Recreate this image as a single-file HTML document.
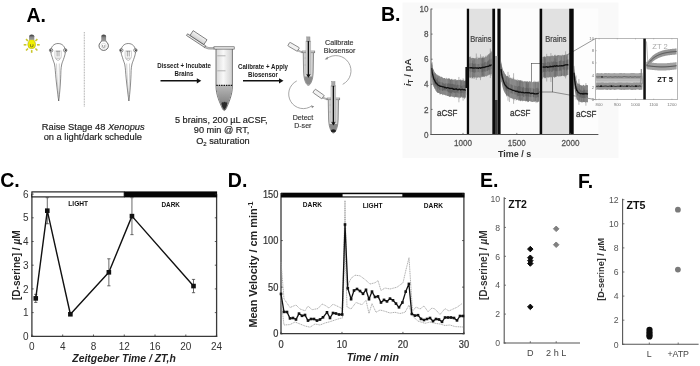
<!DOCTYPE html>
<html><head><meta charset="utf-8"><style>
html,body{margin:0;padding:0;background:#fff;width:700px;height:366px;overflow:hidden}
svg{display:block;font-family:"Liberation Sans", sans-serif;filter:blur(0.35px)}
</style></head><body>
<svg width="700" height="366" viewBox="0 0 700 366">
<rect x="0" y="0" width="700" height="366" fill="#fff"/>
<text x="26.40" y="22.30" font-size="19.5" font-weight="bold" font-style="normal" fill="#000" text-anchor="start" >A.</text>
<text x="381.00" y="20.90" font-size="19.5" font-weight="bold" font-style="normal" fill="#000" text-anchor="start" >B.</text>
<text x="0.20" y="187.30" font-size="19.5" font-weight="bold" font-style="normal" fill="#000" text-anchor="start" >C.</text>
<text x="227.80" y="187.10" font-size="19.5" font-weight="bold" font-style="normal" fill="#000" text-anchor="start" >D.</text>
<text x="480.00" y="187.10" font-size="19.5" font-weight="bold" font-style="normal" fill="#000" text-anchor="start" >E.</text>
<text x="578.00" y="187.50" font-size="19.5" font-weight="bold" font-style="normal" fill="#000" text-anchor="start" >F.</text>
<defs><linearGradient id="bg31" x1="0" y1="0" x2="0" y2="1"><stop offset="0" stop-color="#333"/><stop offset="0.5" stop-color="#888"/><stop offset="1" stop-color="#999"/></linearGradient></defs>
<line x1="37.00" y1="44.80" x2="39.70" y2="44.80" stroke="#c9c62a" stroke-width="1.6"/>
<line x1="35.45" y1="48.55" x2="37.36" y2="50.46" stroke="#c9c62a" stroke-width="1.6"/>
<line x1="31.70" y1="50.10" x2="31.70" y2="52.80" stroke="#c9c62a" stroke-width="1.6"/>
<line x1="27.95" y1="48.55" x2="26.04" y2="50.46" stroke="#c9c62a" stroke-width="1.6"/>
<line x1="26.40" y1="44.80" x2="23.70" y2="44.80" stroke="#c9c62a" stroke-width="1.6"/>
<line x1="35.45" y1="41.05" x2="37.36" y2="39.14" stroke="#c9c62a" stroke-width="1.6"/>
<line x1="27.95" y1="41.05" x2="26.04" y2="39.14" stroke="#c9c62a" stroke-width="1.6"/>
<path d="M29.5,39.599999999999994 C29.5,40.8 27.8,41.8 27.8,44.8 A3.9,3.9 0 0 0 35.6,44.8 C35.6,41.8 33.9,40.8 33.9,39.599999999999994 Z" fill="#f2f000" stroke="#9a9a20" stroke-width="0.5"/>
<path d="M30.4,46.0 l0,-1.8 M33.0,46.0 l0,-1.8 M30.099999999999998,46.199999999999996 q1.6,1.4 3.2,0" stroke="#6a6a20" stroke-width="0.8" fill="none"/>
<path d="M29.099999999999998,39.8 L29.099999999999998,36.199999999999996 Q29.099999999999998,34.599999999999994 31.7,34.599999999999994 Q34.3,34.599999999999994 34.3,36.199999999999996 L34.3,39.8 Z" fill="url(#bg31)"/>
<path d="M58.1,43.5 C62.6,43.5 65.1,47.0 65.3,50.5 C65.5,53.5 64.7,55.5 64.1,57.5 C63.1,60.5 62.2,62.5 61.800000000000004,64.0 C61.300000000000004,66.5 61.0,68.5 60.9,70.5 C60.7,81.5 59.7,93.5 58.7,101.0 C57.7,93.5 56.1,81.5 55.300000000000004,70.5 C55.2,68.5 54.9,66.5 54.5,64.0 C54.0,62.5 53.1,60.5 52.300000000000004,57.5 C51.6,55.5 50.7,53.5 50.9,50.5 C51.1,47.0 53.6,43.5 58.1,43.5 Z" fill="#fff" stroke="#3c3c3c" stroke-width="0.6"/>
<circle cx="51.10" cy="50.30" r="1.7" fill="#fff" stroke="#3c3c3c" stroke-width="0.6"/>
<circle cx="50.60" cy="50.30" r="1.0" fill="#444"/>
<circle cx="65.20" cy="50.30" r="1.7" fill="#fff" stroke="#3c3c3c" stroke-width="0.6"/>
<circle cx="65.70" cy="50.30" r="1.0" fill="#444"/>
<path d="M57.1,51.0 L57.1,56.5 M59.0,51.0 L59.0,56.5 M55.9,51.1 L60.300000000000004,51.1" stroke="#555" stroke-width="0.55" fill="none"/>
<path d="M55.1,50.5 C54.7,53.5 54.9,56.5 55.300000000000004,58.1 M61.1,50.5 C61.5,53.5 61.300000000000004,56.5 60.9,58.1" stroke="#999" stroke-width="0.45" fill="none"/>
<path d="M55.300000000000004,58.2 L60.5,58.2 M55.7,58.7 Q58.1,62.0 60.300000000000004,58.7" stroke="#777" stroke-width="0.5" fill="none"/>
<path d="M56.5,63.5 C56.800000000000004,75.5 57.7,88.5 58.4,98.5 M59.300000000000004,63.5 C59.4,75.5 59.1,88.5 58.7,98.5" stroke="#999" stroke-width="0.45" fill="none"/>
<line x1="84.30" y1="32.00" x2="84.30" y2="106.80" stroke="#777" stroke-width="0.65" stroke-dasharray="0.9,0.7"/>
<defs><linearGradient id="bg103" x1="0" y1="0" x2="0" y2="1"><stop offset="0" stop-color="#333"/><stop offset="0.5" stop-color="#888"/><stop offset="1" stop-color="#999"/></linearGradient></defs>
<path d="M101.4,40.8 C101.4,42.4 99.0,42.9 99.0,45.699999999999996 A4.7,4.7 0 0 0 108.4,45.699999999999996 C108.4,42.9 106.0,42.4 106.0,40.8 Z" fill="#fff" stroke="#3a3a3a" stroke-width="0.75"/>
<circle cx="103.7" cy="45.9" r="2.6" fill="none" stroke="#ccc" stroke-width="0.6"/>
<path d="M102.60000000000001,46.6 l0,-1.6 M104.8,46.6 l0,-1.6 M102.3,46.8 q1.4,1.2 2.8,0" stroke="#777" stroke-width="0.7" fill="none"/>
<path d="M101.3,41.0 L101.3,36.0 Q101.3,34.4 103.7,34.4 Q106.10000000000001,34.4 106.10000000000001,36.0 L106.10000000000001,41.0 Z" fill="url(#bg103)"/>
<path d="M128.3,43.5 C132.8,43.5 135.3,47.0 135.5,50.5 C135.70000000000002,53.5 134.9,55.5 134.3,57.5 C133.3,60.5 132.4,62.5 132.0,64.0 C131.5,66.5 131.20000000000002,68.5 131.10000000000002,70.5 C130.9,81.5 129.9,93.5 128.9,101.0 C127.9,93.5 126.30000000000001,81.5 125.50000000000001,70.5 C125.4,68.5 125.10000000000001,66.5 124.70000000000002,64.0 C124.20000000000002,62.5 123.30000000000001,60.5 122.50000000000001,57.5 C121.80000000000001,55.5 120.9,53.5 121.10000000000001,50.5 C121.30000000000001,47.0 123.80000000000001,43.5 128.3,43.5 Z" fill="#fff" stroke="#3c3c3c" stroke-width="0.6"/>
<circle cx="121.30" cy="50.30" r="1.7" fill="#fff" stroke="#3c3c3c" stroke-width="0.6"/>
<circle cx="120.80" cy="50.30" r="1.0" fill="#444"/>
<circle cx="135.40" cy="50.30" r="1.7" fill="#fff" stroke="#3c3c3c" stroke-width="0.6"/>
<circle cx="135.90" cy="50.30" r="1.0" fill="#444"/>
<path d="M127.30000000000001,51.0 L127.30000000000001,56.5 M129.20000000000002,51.0 L129.20000000000002,56.5 M126.10000000000001,51.1 L130.5,51.1" stroke="#555" stroke-width="0.55" fill="none"/>
<path d="M125.30000000000001,50.5 C124.9,53.5 125.10000000000001,56.5 125.50000000000001,58.1 M131.3,50.5 C131.70000000000002,53.5 131.5,56.5 131.10000000000002,58.1" stroke="#999" stroke-width="0.45" fill="none"/>
<path d="M125.50000000000001,58.2 L130.70000000000002,58.2 M125.9,58.7 Q128.3,62.0 130.5,58.7" stroke="#777" stroke-width="0.5" fill="none"/>
<path d="M126.70000000000002,63.5 C127.00000000000001,75.5 127.9,88.5 128.60000000000002,98.5 M129.5,63.5 C129.60000000000002,75.5 129.3,88.5 128.9,98.5" stroke="#999" stroke-width="0.45" fill="none"/>
<text x="93.20" y="129.60" font-size="9.3" font-weight="normal" font-style="normal" fill="#222" text-anchor="middle" stroke="#222" stroke-width="0.18">Raise Stage 48 <tspan font-style="italic">Xenopus</tspan></text>
<text x="92.80" y="139.60" font-size="9.3" font-weight="normal" font-style="normal" fill="#222" text-anchor="middle" stroke="#222" stroke-width="0.18">on a light/dark schedule</text>
<text transform="translate(184.00,68.30) scale(1,1.2)" x="0" y="0" font-size="6.1" font-weight="bold" font-style="normal" fill="#1a1a1a" text-anchor="middle" >Dissect + Incubate</text>
<text transform="translate(184.00,75.60) scale(1,1.2)" x="0" y="0" font-size="6.1" font-weight="bold" font-style="normal" fill="#1a1a1a" text-anchor="middle" >Brains</text>
<line x1="160.50" y1="80.80" x2="197.80" y2="80.80" stroke="#111" stroke-width="1.6" />
<polygon points="201.30,80.80 196.80,78.20 196.80,83.40" fill="#111" />
<text transform="translate(263.00,69.40) scale(1,1.2)" x="0" y="0" font-size="6.13" font-weight="bold" font-style="normal" fill="#1a1a1a" text-anchor="middle" >Calibrate + Apply</text>
<text transform="translate(263.00,76.80) scale(1,1.2)" x="0" y="0" font-size="6.13" font-weight="bold" font-style="normal" fill="#1a1a1a" text-anchor="middle" >Biosensor</text>
<line x1="243.00" y1="80.80" x2="280.00" y2="80.80" stroke="#111" stroke-width="1.6" />
<polygon points="283.50,80.80 279.00,78.20 279.00,83.40" fill="#111" />
<defs><linearGradient id="tg" x1="0" x2="1" y1="0" y2="0"><stop offset="0" stop-color="#d8d8d8"/><stop offset="0.45" stop-color="#f8f8f8"/><stop offset="1" stop-color="#d0d0d0"/></linearGradient><linearGradient id="cg2" x1="0" x2="0" y1="0" y2="1"><stop offset="0" stop-color="#b8b8b8"/><stop offset="0.6" stop-color="#8e8e8e"/><stop offset="1" stop-color="#555"/></linearGradient><linearGradient id="lidg" x1="0" x2="0" y1="0" y2="1"><stop offset="0" stop-color="#f4f4f4"/><stop offset="1" stop-color="#cfcfcf"/></linearGradient><linearGradient id="stg" x1="0" x2="1" y1="0" y2="0"><stop offset="0" stop-color="#c8c8c8"/><stop offset="0.5" stop-color="#f2f2f2"/><stop offset="1" stop-color="#c0c0c0"/></linearGradient><linearGradient id="cg" x1="0" x2="1" y1="0" y2="0"><stop offset="0" stop-color="#777"/><stop offset="0.5" stop-color="#aaa"/><stop offset="1" stop-color="#666"/></linearGradient></defs>
<path d="M216,48.5 L216,86 C216,95 220,103 222.3,108.4 Q224.3,112.6 226.3,108.4 C228.6,103 232.4,95 232.4,86 L232.4,48.5 Z" fill="url(#tg)" stroke="#444" stroke-width="0.7"/>
<path d="M216.5,85.5 L216.5,86 C216.5,95 220.4,103 222.6,108.2 Q224.3,112 226,108.2 C228.2,103 231.9,95 231.9,86 L231.9,85.5 Z" fill="url(#cg2)"/>
<path d="M221.5,103.5 Q222,101.8 223.5,102.6 Q224.5,101 225.6,102.4 Q227.2,101.8 227.2,103.8 Q227,107 224.4,109.5 Q221.8,107 221.5,103.5 Z" fill="#2a2a2a"/>
<line x1="216.30" y1="85.30" x2="232.10" y2="85.30" stroke="#111" stroke-width="1.3" stroke-dasharray="1.5,0.9"/>
<rect x="213.90" y="46.80" width="20.30" height="2.30" fill="#ececec" stroke="#444" stroke-width="0.6" />
<line x1="217.30" y1="55.80" x2="225.50" y2="55.80" stroke="#999" stroke-width="0.7" />
<line x1="217.30" y1="70.80" x2="225.50" y2="70.80" stroke="#999" stroke-width="0.7" />
<path d="M205,46.2 Q208.5,48.3 214,47.6 L214,49.0 Q208,49.8 204.4,47.6 Z" fill="#ccc" stroke="#555" stroke-width="0.45"/>
<g transform="translate(198.7,37.3) rotate(33.4)"><rect x="-11.2" y="3.2" width="21.6" height="2.0" fill="#e8e8e8" stroke="#444" stroke-width="0.6"/><rect x="-8.3" y="-2.5" width="16.6" height="5.7" fill="url(#lidg)" stroke="#444" stroke-width="0.6"/></g>
<text x="221.30" y="122.90" font-size="9.15" font-weight="normal" font-style="normal" fill="#222" text-anchor="middle" stroke="#222" stroke-width="0.18">5 brains, 200 µL aCSF,</text>
<text x="221.60" y="133.20" font-size="9.2" font-weight="normal" font-style="normal" fill="#222" text-anchor="middle" stroke="#222" stroke-width="0.18">90 min @ RT,</text>
<g transform="translate(222.9,143.6)"><text x="0" y="0" font-size="9.2" fill="#222" stroke="#222" stroke-width="0.18" text-anchor="middle">O<tspan font-size="6" dy="2">2</tspan><tspan dy="-2"> saturation</tspan></text></g>
<path d="M303.2,52.0 L303.59999999999997,72.0 C303.8,80.4 306.59999999999997,85.4 308.4,85.4 C310.2,85.4 312.99999999999994,80.4 313.2,72.0 L313.59999999999997,52.0 Z" fill="url(#stg)" stroke="#555" stroke-width="0.6"/>
<path d="M304.2,76.4 C304.8,81.4 306.79999999999995,84.80000000000001 308.4,84.80000000000001 C310.0,84.80000000000001 311.99999999999994,81.4 312.59999999999997,76.4 Z" fill="#8a8a8a"/>
<rect x="302.00" y="51.00" width="12.80" height="1.80" fill="#e4e4e4" stroke="#555" stroke-width="0.5" />
<line x1="304.40" y1="58.00" x2="305.80" y2="58.00" stroke="#999" stroke-width="0.4" />
<line x1="304.40" y1="65.00" x2="305.80" y2="65.00" stroke="#999" stroke-width="0.4" />
<rect x="306.00" y="41.10" width="4.80" height="33.30" fill="#e2e2e2" stroke="#8a8a8a" stroke-width="0.45" />
<rect x="306.80" y="36.90" width="3.20" height="4.60" fill="#a8a8a8" stroke="#777" stroke-width="0.4" />
<line x1="308.40" y1="41.10" x2="308.40" y2="75.90" stroke="#111" stroke-width="1.5" />
<path d="M306.2,74.60000000000001 L310.59999999999997,74.60000000000001 L308.4,77.80000000000001 Z" fill="#111"/>
<g transform="translate(293.6,46.8) rotate(30)"><rect x="-5.6" y="-2.1" width="11.2" height="4.2" rx="0.8" fill="#f2f2f2" stroke="#444" stroke-width="0.55"/></g>
<path d="M297.8,49.8 L302.0,51.8 L302.0,52.8 L297.20000000000005,50.8 Z" fill="#ddd" stroke="#555" stroke-width="0.4"/>
<path d="M328.2,99.0 L328.59999999999997,119.0 C328.8,128.0 331.59999999999997,133.0 333.4,133.0 C335.2,133.0 337.99999999999994,128.0 338.2,119.0 L338.59999999999997,99.0 Z" fill="url(#stg)" stroke="#555" stroke-width="0.6"/>
<path d="M329.2,124.0 C329.8,129.0 331.79999999999995,132.4 333.4,132.4 C335.0,132.4 336.99999999999994,129.0 337.59999999999997,124.0 Z" fill="#8a8a8a"/>
<ellipse cx="333.4" cy="130.8" rx="2.6" ry="1.6" fill="#222"/>
<rect x="327.00" y="98.00" width="12.80" height="1.80" fill="#e4e4e4" stroke="#555" stroke-width="0.5" />
<line x1="329.40" y1="105.00" x2="330.80" y2="105.00" stroke="#999" stroke-width="0.4" />
<line x1="329.40" y1="112.00" x2="330.80" y2="112.00" stroke="#999" stroke-width="0.4" />
<rect x="331.00" y="85.80" width="4.80" height="36.20" fill="#e2e2e2" stroke="#8a8a8a" stroke-width="0.45" />
<rect x="331.80" y="81.60" width="3.20" height="4.60" fill="#a8a8a8" stroke="#777" stroke-width="0.4" />
<line x1="333.40" y1="85.80" x2="333.40" y2="123.50" stroke="#111" stroke-width="1.5" />
<path d="M331.2,122.2 L335.59999999999997,122.2 L333.4,125.4 Z" fill="#111"/>
<g transform="translate(318.6,94.0) rotate(35)"><rect x="-5.6" y="-2.1" width="11.2" height="4.2" rx="0.8" fill="#f2f2f2" stroke="#444" stroke-width="0.55"/></g>
<path d="M322.8,97.0 L327.0,98.8 L327.0,99.8 L322.20000000000005,98.0 Z" fill="#ddd" stroke="#555" stroke-width="0.4"/>
<text x="339.30" y="44.70" font-size="7.15" font-weight="normal" font-style="normal" fill="#333" text-anchor="middle" stroke="#333" stroke-width="0.15">Calibrate</text>
<text x="339.60" y="53.00" font-size="7.1" font-weight="normal" font-style="normal" fill="#333" text-anchor="middle" stroke="#333" stroke-width="0.15">Biosensor</text>
<text x="302.90" y="119.90" font-size="7.1" font-weight="normal" font-style="normal" fill="#333" text-anchor="middle" stroke="#333" stroke-width="0.15">Detect</text>
<text x="302.80" y="128.40" font-size="7.03" font-weight="normal" font-style="normal" fill="#333" text-anchor="middle" stroke="#333" stroke-width="0.15">D-ser</text>
<path d="M326.44,58.82 A15.2,15.2 0 1 1 342.70,84.34" fill="none" stroke="#8a8a8a" stroke-width="0.75"/>
<path d="M324.6,59.6 L327.6,56.6 L327.9,59.2 Z" fill="#888"/>
<path d="M296.76,80.95 A14.6,14.6 0 1 0 311.98,105.74" fill="none" stroke="#8a8a8a" stroke-width="0.75"/>
<path d="M314.2,106.3 L311.2,105.6 L312.0,108.3 Z" fill="#888"/>
<rect x="402.50" y="2.50" width="216.00" height="155.60" fill="#f9f9f9" stroke="none" stroke-width="1" />
<rect x="431.00" y="8.70" width="167.40" height="125.80" fill="#fdfdfd" stroke="none" stroke-width="1" />
<rect x="469.00" y="8.70" width="23.30" height="125.80" fill="#e1e1e1" stroke="none" stroke-width="1" />
<rect x="542.20" y="8.70" width="27.00" height="125.80" fill="#e1e1e1" stroke="none" stroke-width="1" />
<rect x="531.30" y="63.30" width="21.40" height="28.70" fill="none" stroke="#444" stroke-width="0.6" />
<line x1="552.70" y1="63.30" x2="595.70" y2="38.40" stroke="#555" stroke-width="0.6" />
<line x1="552.70" y1="92.00" x2="595.70" y2="99.70" stroke="#555" stroke-width="0.6" />
<polygon points="431.60,61.86 432.30,65.20 433.00,68.41 433.70,69.67 434.40,71.71 435.10,72.64 435.80,73.17 436.50,74.42 437.20,74.45 437.90,75.41 438.60,75.39 439.30,75.78 440.00,76.50 440.70,77.27 441.40,76.69 442.10,77.04 442.80,77.75 443.50,78.33 444.20,78.08 444.90,78.04 445.60,78.90 446.30,77.93 447.00,79.05 447.70,78.51 448.40,78.46 449.10,78.55 449.80,78.89 450.50,79.61 451.20,78.94 451.90,79.52 452.60,79.68 453.30,79.44 454.00,79.73 454.70,79.23 455.40,79.29 456.10,79.54 456.80,80.17 457.50,79.92 458.20,79.84 458.90,80.22 459.60,80.11 460.30,79.98 461.00,80.61 461.70,80.54 462.40,80.04 463.10,80.47 463.80,80.45 464.50,80.90 465.20,80.75 465.90,80.25 465.90,98.39 465.20,97.32 464.50,97.65 463.80,98.02 463.10,97.26 462.40,97.63 461.70,97.05 461.00,97.76 460.30,97.83 459.60,97.56 458.90,97.87 458.20,97.14 457.50,97.55 456.80,97.36 456.10,97.28 455.40,97.07 454.70,97.46 454.00,97.51 453.30,96.87 452.60,97.01 451.90,96.20 451.20,96.87 450.50,96.70 449.80,97.01 449.10,96.69 448.40,95.93 447.70,95.92 447.00,96.12 446.30,95.20 445.60,95.58 444.90,95.06 444.20,94.82 443.50,94.56 442.80,95.21 442.10,94.22 441.40,94.11 440.70,94.02 440.00,94.29 439.30,93.01 438.60,93.06 437.90,92.72 437.20,92.58 436.50,91.84 435.80,91.07 435.10,89.32 434.40,88.13 433.70,86.28 433.00,84.52 432.30,81.38 431.60,75.99" fill="#878787" />
<polygon points="431.60,65.03 432.30,69.15 433.00,72.11 433.70,74.70 434.40,76.52 435.10,77.25 435.80,77.82 436.50,79.26 437.20,79.81 437.90,80.64 438.60,81.70 439.30,81.66 440.00,81.71 440.70,82.17 441.40,82.52 442.10,81.77 442.80,83.34 443.50,83.36 444.20,83.70 444.90,83.75 445.60,83.27 446.30,83.43 447.00,83.10 447.70,84.09 448.40,83.30 449.10,83.43 449.80,83.77 450.50,83.80 451.20,84.19 451.90,83.82 452.60,83.83 453.30,84.15 454.00,84.15 454.70,84.65 455.40,84.18 456.10,85.60 456.80,85.25 457.50,84.56 458.20,84.79 458.90,84.99 459.60,85.07 460.30,84.73 461.00,85.93 461.70,86.21 462.40,85.40 463.10,85.47 463.80,84.87 464.50,84.93 465.20,85.34 465.90,85.25 465.90,93.94 465.20,92.84 464.50,92.59 463.80,94.04 463.10,93.33 462.40,92.68 461.70,93.27 461.00,92.40 460.30,93.16 459.60,93.84 458.90,93.60 458.20,93.28 457.50,92.53 456.80,92.64 456.10,92.26 455.40,93.16 454.70,92.70 454.00,93.02 453.30,92.22 452.60,91.97 451.90,92.82 451.20,93.00 450.50,92.69 449.80,92.51 449.10,92.42 448.40,92.17 447.70,91.22 447.00,91.55 446.30,91.15 445.60,90.47 444.90,90.30 444.20,90.53 443.50,90.30 442.80,90.79 442.10,90.99 441.40,89.93 440.70,90.45 440.00,90.23 439.30,89.84 438.60,88.50 437.90,87.82 437.20,87.28 436.50,86.57 435.80,85.76 435.10,85.39 434.40,84.47 433.70,82.59 433.00,79.63 432.30,76.67 431.60,72.48" fill="#686868" />
<line x1="431.60" y1="63.54" x2="431.60" y2="77.50" stroke="#6a6a6a" stroke-width="0.5" />
<line x1="432.30" y1="64.92" x2="432.30" y2="81.38" stroke="#8e8e8e" stroke-width="0.5" />
<line x1="433.00" y1="70.99" x2="433.00" y2="84.31" stroke="#9a9a9a" stroke-width="0.5" />
<line x1="433.70" y1="72.94" x2="433.70" y2="86.71" stroke="#6a6a6a" stroke-width="0.5" />
<line x1="435.10" y1="73.96" x2="435.10" y2="88.68" stroke="#6a6a6a" stroke-width="0.5" />
<line x1="437.20" y1="77.72" x2="437.20" y2="89.82" stroke="#6a6a6a" stroke-width="0.5" />
<line x1="437.90" y1="77.59" x2="437.90" y2="92.93" stroke="#5e5e5e" stroke-width="0.5" />
<line x1="440.00" y1="79.02" x2="440.00" y2="94.57" stroke="#6a6a6a" stroke-width="0.5" />
<line x1="440.70" y1="76.34" x2="440.70" y2="93.40" stroke="#8e8e8e" stroke-width="0.5" />
<line x1="441.40" y1="77.53" x2="441.40" y2="92.01" stroke="#8e8e8e" stroke-width="0.5" />
<line x1="446.30" y1="77.66" x2="446.30" y2="95.07" stroke="#9a9a9a" stroke-width="0.5" />
<line x1="449.10" y1="78.14" x2="449.10" y2="96.09" stroke="#5e5e5e" stroke-width="0.5" />
<line x1="450.50" y1="80.06" x2="450.50" y2="96.03" stroke="#5e5e5e" stroke-width="0.5" />
<line x1="451.90" y1="78.78" x2="451.90" y2="93.91" stroke="#5e5e5e" stroke-width="0.5" />
<line x1="455.40" y1="81.08" x2="455.40" y2="96.40" stroke="#6a6a6a" stroke-width="0.5" />
<line x1="456.80" y1="80.85" x2="456.80" y2="96.40" stroke="#6a6a6a" stroke-width="0.5" />
<line x1="459.60" y1="81.19" x2="459.60" y2="98.71" stroke="#9a9a9a" stroke-width="0.5" />
<line x1="460.30" y1="79.26" x2="460.30" y2="96.51" stroke="#5e5e5e" stroke-width="0.5" />
<line x1="461.70" y1="79.76" x2="461.70" y2="95.97" stroke="#5e5e5e" stroke-width="0.5" />
<line x1="463.10" y1="82.10" x2="463.10" y2="97.65" stroke="#6a6a6a" stroke-width="0.5" />
<line x1="463.80" y1="79.53" x2="463.80" y2="96.82" stroke="#5e5e5e" stroke-width="0.5" />
<line x1="464.50" y1="81.14" x2="464.50" y2="99.20" stroke="#6a6a6a" stroke-width="0.5" />
<line x1="465.20" y1="80.92" x2="465.20" y2="97.10" stroke="#8e8e8e" stroke-width="0.5" />
<line x1="465.90" y1="80.61" x2="465.90" y2="95.22" stroke="#8e8e8e" stroke-width="0.5" />
<line x1="432.30" y1="62.26" x2="432.30" y2="84.20" stroke="#8a8a8a" stroke-width="0.6" />
<line x1="463.10" y1="78.31" x2="463.10" y2="100.67" stroke="#8a8a8a" stroke-width="0.6" />
<line x1="458.90" y1="76.94" x2="458.90" y2="102.30" stroke="#8a8a8a" stroke-width="0.6" />
<polyline points="431.60,68.06 432.30,73.20 433.00,75.82 433.70,78.79 434.40,79.86 435.10,81.38 435.80,83.00 436.50,83.17 437.20,84.35 437.90,84.95 438.60,85.43 439.30,85.67 440.00,86.25 440.70,86.06 441.40,86.45 442.10,86.67 442.80,86.88 443.50,86.93 444.20,87.08 444.90,87.73 445.60,87.34 446.30,88.13 447.00,87.71 447.70,87.62 448.40,87.82 449.10,88.09 449.80,88.52 450.50,88.28 451.20,88.42 451.90,88.38 452.60,88.37 453.30,89.34 454.00,88.90 454.70,89.42 455.40,89.23 456.10,88.78 456.80,89.44 457.50,89.71 458.20,89.79 458.90,89.21 459.60,89.18 460.30,89.91 461.00,89.68 461.70,89.63 462.40,89.38 463.10,89.63 463.80,89.87 464.50,89.54 465.20,90.05 465.90,90.25" fill="none" stroke="#111" stroke-width="1.3" stroke-linejoin="round" />
<polygon points="469.30,56.98 470.00,57.05 470.70,57.72 471.40,58.37 472.10,57.88 472.80,57.63 473.50,57.93 474.20,58.24 474.90,58.27 475.60,58.31 476.30,58.19 477.00,58.60 477.70,58.69 478.40,57.87 479.10,57.71 479.80,57.67 480.50,57.56 481.20,58.29 481.90,57.99 482.60,57.16 483.30,58.04 484.00,57.88 484.70,57.53 485.40,56.36 486.10,56.84 486.80,56.51 487.50,55.33 488.20,54.24 488.90,54.31 489.60,53.30 490.30,52.79 491.00,52.67 491.70,51.55 491.70,74.58 491.00,74.06 490.30,74.48 489.60,74.83 488.90,74.76 488.20,75.43 487.50,75.61 486.80,76.62 486.10,76.03 485.40,75.89 484.70,77.09 484.00,76.46 483.30,76.57 482.60,76.90 481.90,76.72 481.20,77.06 480.50,77.61 479.80,77.19 479.10,77.89 478.40,77.11 477.70,78.01 477.00,77.21 476.30,77.74 475.60,77.49 474.90,77.35 474.20,77.71 473.50,77.00 472.80,77.99 472.10,77.79 471.40,76.88 470.70,77.68 470.00,77.47 469.30,77.15" fill="#878787" />
<polygon points="469.30,63.46 470.00,63.48 470.70,63.20 471.40,62.95 472.10,63.56 472.80,62.87 473.50,64.02 474.20,63.89 474.90,63.61 475.60,63.51 476.30,63.96 477.00,63.65 477.70,64.28 478.40,64.00 479.10,63.66 479.80,64.00 480.50,62.65 481.20,63.63 481.90,63.70 482.60,63.43 483.30,63.68 484.00,63.03 484.70,61.96 485.40,61.71 486.10,62.44 486.80,62.56 487.50,61.22 488.20,60.92 488.90,59.85 489.60,59.37 490.30,59.75 491.00,58.85 491.70,58.43 491.70,69.06 491.00,68.69 490.30,70.33 489.60,70.52 488.90,69.47 488.20,70.41 487.50,70.99 486.80,70.77 486.10,71.52 485.40,71.77 484.70,70.98 484.00,71.98 483.30,71.30 482.60,72.11 481.90,71.93 481.20,72.66 480.50,71.52 479.80,72.93 479.10,71.99 478.40,71.65 477.70,72.61 477.00,71.93 476.30,72.57 475.60,72.13 474.90,72.61 474.20,72.63 473.50,72.47 472.80,71.63 472.10,72.11 471.40,72.04 470.70,72.74 470.00,71.26 469.30,71.36" fill="#686868" />
<line x1="469.30" y1="59.23" x2="469.30" y2="75.32" stroke="#9a9a9a" stroke-width="0.5" />
<line x1="470.00" y1="56.66" x2="470.00" y2="78.15" stroke="#6a6a6a" stroke-width="0.5" />
<line x1="470.70" y1="56.60" x2="470.70" y2="76.34" stroke="#8e8e8e" stroke-width="0.5" />
<line x1="471.40" y1="59.98" x2="471.40" y2="78.65" stroke="#9a9a9a" stroke-width="0.5" />
<line x1="472.80" y1="60.56" x2="472.80" y2="78.62" stroke="#5e5e5e" stroke-width="0.5" />
<line x1="474.20" y1="58.91" x2="474.20" y2="78.84" stroke="#6a6a6a" stroke-width="0.5" />
<line x1="476.30" y1="57.14" x2="476.30" y2="76.28" stroke="#9a9a9a" stroke-width="0.5" />
<line x1="477.70" y1="56.74" x2="477.70" y2="74.64" stroke="#9a9a9a" stroke-width="0.5" />
<line x1="479.10" y1="59.83" x2="479.10" y2="76.43" stroke="#9a9a9a" stroke-width="0.5" />
<line x1="479.80" y1="60.28" x2="479.80" y2="74.50" stroke="#8e8e8e" stroke-width="0.5" />
<line x1="481.20" y1="60.50" x2="481.20" y2="77.54" stroke="#8e8e8e" stroke-width="0.5" />
<line x1="481.90" y1="56.51" x2="481.90" y2="75.97" stroke="#5e5e5e" stroke-width="0.5" />
<line x1="482.60" y1="58.02" x2="482.60" y2="75.33" stroke="#5e5e5e" stroke-width="0.5" />
<line x1="483.30" y1="56.19" x2="483.30" y2="76.93" stroke="#6a6a6a" stroke-width="0.5" />
<line x1="484.00" y1="56.99" x2="484.00" y2="76.10" stroke="#6a6a6a" stroke-width="0.5" />
<line x1="486.10" y1="55.32" x2="486.10" y2="76.67" stroke="#9a9a9a" stroke-width="0.5" />
<line x1="489.60" y1="55.24" x2="489.60" y2="74.14" stroke="#6a6a6a" stroke-width="0.5" />
<line x1="491.00" y1="50.83" x2="491.00" y2="75.78" stroke="#6a6a6a" stroke-width="0.5" />
<line x1="491.70" y1="51.80" x2="491.70" y2="72.62" stroke="#8e8e8e" stroke-width="0.5" />
<line x1="480.50" y1="54.30" x2="480.50" y2="80.14" stroke="#8a8a8a" stroke-width="0.6" />
<line x1="490.30" y1="48.55" x2="490.30" y2="78.04" stroke="#8a8a8a" stroke-width="0.6" />
<line x1="476.30" y1="53.56" x2="476.30" y2="79.86" stroke="#8a8a8a" stroke-width="0.6" />
<polyline points="469.30,67.54 470.00,67.91 470.70,67.76 471.40,67.75 472.10,67.72 472.80,68.17 473.50,67.93 474.20,68.09 474.90,67.86 475.60,67.83 476.30,68.19 477.00,67.98 477.70,68.01 478.40,68.38 479.10,67.79 479.80,67.56 480.50,68.25 481.20,67.72 481.90,67.94 482.60,67.33 483.30,67.25 484.00,67.53 484.70,67.13 485.40,67.01 486.10,66.62 486.80,66.71 487.50,66.34 488.20,66.35 488.90,66.17 489.60,65.24 490.30,65.72 491.00,65.00 491.70,64.98" fill="none" stroke="#111" stroke-width="1.3" stroke-linejoin="round" />
<polygon points="501.00,61.07 501.70,64.66 502.40,68.09 503.10,70.45 503.80,71.12 504.50,72.81 505.20,74.27 505.90,75.18 506.60,76.08 507.30,76.10 508.00,76.11 508.70,77.57 509.40,77.95 510.10,77.82 510.80,78.05 511.50,78.31 512.20,78.96 512.90,78.53 513.60,78.66 514.30,79.85 515.00,79.00 515.70,80.03 516.40,80.05 517.10,80.38 517.80,80.58 518.50,79.75 519.20,80.71 519.90,79.90 520.60,80.16 521.30,80.80 522.00,80.26 522.70,81.17 523.40,81.56 524.10,81.24 524.80,81.20 525.50,81.17 526.20,81.63 526.90,80.90 527.60,81.21 528.30,82.04 529.00,81.19 529.70,81.33 530.40,82.01 531.10,81.11 531.80,81.80 532.50,82.39 533.20,81.57 533.90,81.66 534.60,82.32 535.30,81.64 536.00,82.01 536.70,82.06 537.40,81.47 538.10,81.95 538.80,82.27 538.80,101.55 538.10,101.69 537.40,102.50 536.70,102.18 536.00,101.47 535.30,101.62 534.60,101.82 533.90,101.72 533.20,101.83 532.50,102.03 531.80,102.02 531.10,101.55 530.40,101.54 529.70,101.02 529.00,101.31 528.30,101.92 527.60,100.93 526.90,101.38 526.20,100.96 525.50,101.56 524.80,100.80 524.10,101.05 523.40,100.72 522.70,101.38 522.00,100.35 521.30,100.87 520.60,100.74 519.90,100.97 519.20,100.36 518.50,100.74 517.80,99.58 517.10,100.08 516.40,100.31 515.70,99.11 515.00,98.89 514.30,99.39 513.60,98.96 512.90,99.10 512.20,98.23 511.50,98.28 510.80,98.31 510.10,97.51 509.40,96.90 508.70,96.45 508.00,96.08 507.30,95.55 506.60,95.44 505.90,94.48 505.20,93.42 504.50,91.99 503.80,90.91 503.10,89.01 502.40,86.53 501.70,82.39 501.00,77.35" fill="#878787" />
<polygon points="501.00,64.97 501.70,69.20 502.40,72.94 503.10,76.12 503.80,77.48 504.50,79.26 505.20,79.82 505.90,81.37 506.60,81.39 507.30,82.82 508.00,82.21 508.70,83.65 509.40,83.24 510.10,84.14 510.80,84.31 511.50,84.40 512.20,85.32 512.90,85.14 513.60,85.61 514.30,85.20 515.00,85.99 515.70,85.81 516.40,85.93 517.10,86.23 517.80,86.92 518.50,85.87 519.20,86.21 519.90,86.12 520.60,87.10 521.30,86.82 522.00,86.88 522.70,87.96 523.40,86.60 524.10,87.81 524.80,87.80 525.50,88.25 526.20,87.32 526.90,88.06 527.60,87.92 528.30,88.32 529.00,88.60 529.70,87.24 530.40,88.51 531.10,87.41 531.80,88.43 532.50,88.07 533.20,88.61 533.90,88.67 534.60,88.90 535.30,88.77 536.00,87.71 536.70,88.33 537.40,87.57 538.10,89.08 538.80,88.10 538.80,97.72 538.10,96.83 537.40,96.94 536.70,97.91 536.00,97.24 535.30,97.72 534.60,97.39 533.90,97.22 533.20,96.99 532.50,96.58 531.80,96.93 531.10,97.28 530.40,96.96 529.70,97.01 529.00,96.34 528.30,96.71 527.60,96.14 526.90,96.02 526.20,96.84 525.50,96.10 524.80,96.37 524.10,97.20 523.40,97.08 522.70,95.72 522.00,95.56 521.30,95.98 520.60,96.56 519.90,95.40 519.20,95.76 518.50,96.01 517.80,95.85 517.10,95.73 516.40,94.80 515.70,94.61 515.00,94.42 514.30,94.20 513.60,94.01 512.90,94.07 512.20,93.43 511.50,93.24 510.80,93.03 510.10,93.71 509.40,92.19 508.70,91.58 508.00,91.41 507.30,90.84 506.60,90.62 505.90,90.02 505.20,88.15 504.50,87.48 503.80,85.22 503.10,83.14 502.40,81.89 501.70,77.35 501.00,73.06" fill="#686868" />
<line x1="501.00" y1="63.60" x2="501.00" y2="75.87" stroke="#5e5e5e" stroke-width="0.5" />
<line x1="501.70" y1="67.76" x2="501.70" y2="82.08" stroke="#5e5e5e" stroke-width="0.5" />
<line x1="502.40" y1="70.11" x2="502.40" y2="84.97" stroke="#8e8e8e" stroke-width="0.5" />
<line x1="504.50" y1="74.27" x2="504.50" y2="92.41" stroke="#8e8e8e" stroke-width="0.5" />
<line x1="505.20" y1="74.11" x2="505.20" y2="91.10" stroke="#6a6a6a" stroke-width="0.5" />
<line x1="506.60" y1="77.31" x2="506.60" y2="96.37" stroke="#5e5e5e" stroke-width="0.5" />
<line x1="508.00" y1="76.79" x2="508.00" y2="96.27" stroke="#5e5e5e" stroke-width="0.5" />
<line x1="508.70" y1="79.13" x2="508.70" y2="96.42" stroke="#5e5e5e" stroke-width="0.5" />
<line x1="509.40" y1="79.52" x2="509.40" y2="97.36" stroke="#6a6a6a" stroke-width="0.5" />
<line x1="510.80" y1="77.33" x2="510.80" y2="98.18" stroke="#9a9a9a" stroke-width="0.5" />
<line x1="512.90" y1="77.59" x2="512.90" y2="99.20" stroke="#8e8e8e" stroke-width="0.5" />
<line x1="513.60" y1="77.66" x2="513.60" y2="99.52" stroke="#8e8e8e" stroke-width="0.5" />
<line x1="515.00" y1="79.79" x2="515.00" y2="100.70" stroke="#9a9a9a" stroke-width="0.5" />
<line x1="516.40" y1="82.00" x2="516.40" y2="98.63" stroke="#8e8e8e" stroke-width="0.5" />
<line x1="517.10" y1="79.20" x2="517.10" y2="97.03" stroke="#6a6a6a" stroke-width="0.5" />
<line x1="519.20" y1="81.67" x2="519.20" y2="99.04" stroke="#6a6a6a" stroke-width="0.5" />
<line x1="519.90" y1="80.27" x2="519.90" y2="99.84" stroke="#5e5e5e" stroke-width="0.5" />
<line x1="520.60" y1="81.32" x2="520.60" y2="101.23" stroke="#6a6a6a" stroke-width="0.5" />
<line x1="521.30" y1="82.98" x2="521.30" y2="97.91" stroke="#9a9a9a" stroke-width="0.5" />
<line x1="522.00" y1="82.05" x2="522.00" y2="100.68" stroke="#5e5e5e" stroke-width="0.5" />
<line x1="524.80" y1="83.20" x2="524.80" y2="99.17" stroke="#9a9a9a" stroke-width="0.5" />
<line x1="526.20" y1="81.94" x2="526.20" y2="100.86" stroke="#5e5e5e" stroke-width="0.5" />
<line x1="526.90" y1="82.21" x2="526.90" y2="100.11" stroke="#5e5e5e" stroke-width="0.5" />
<line x1="527.60" y1="84.31" x2="527.60" y2="102.12" stroke="#6a6a6a" stroke-width="0.5" />
<line x1="528.30" y1="82.54" x2="528.30" y2="101.91" stroke="#5e5e5e" stroke-width="0.5" />
<line x1="529.70" y1="81.87" x2="529.70" y2="100.67" stroke="#8e8e8e" stroke-width="0.5" />
<line x1="531.10" y1="81.33" x2="531.10" y2="100.46" stroke="#8e8e8e" stroke-width="0.5" />
<line x1="531.80" y1="82.23" x2="531.80" y2="98.86" stroke="#9a9a9a" stroke-width="0.5" />
<line x1="532.50" y1="82.31" x2="532.50" y2="101.58" stroke="#9a9a9a" stroke-width="0.5" />
<line x1="534.60" y1="80.71" x2="534.60" y2="100.53" stroke="#8e8e8e" stroke-width="0.5" />
<line x1="535.30" y1="82.43" x2="535.30" y2="101.24" stroke="#5e5e5e" stroke-width="0.5" />
<line x1="536.00" y1="81.06" x2="536.00" y2="103.13" stroke="#8e8e8e" stroke-width="0.5" />
<line x1="538.10" y1="82.83" x2="538.10" y2="100.76" stroke="#6a6a6a" stroke-width="0.5" />
<line x1="538.80" y1="80.88" x2="538.80" y2="101.85" stroke="#5e5e5e" stroke-width="0.5" />
<line x1="509.40" y1="74.91" x2="509.40" y2="102.02" stroke="#8a8a8a" stroke-width="0.6" />
<line x1="513.60" y1="73.25" x2="513.60" y2="103.81" stroke="#8a8a8a" stroke-width="0.6" />
<line x1="508.00" y1="71.87" x2="508.00" y2="100.64" stroke="#8a8a8a" stroke-width="0.6" />
<polyline points="501.00,69.07 501.70,74.26 502.40,77.55 503.10,79.88 503.80,81.98 504.50,83.82 505.20,85.32 505.90,85.91 506.60,86.54 507.30,87.84 508.00,87.96 508.70,88.54 509.40,88.97 510.10,88.99 510.80,89.44 511.50,89.57 512.20,90.02 512.90,90.47 513.60,90.37 514.30,90.62 515.00,90.85 515.70,91.40 516.40,91.09 517.10,91.70 517.80,91.20 518.50,92.07 519.20,92.29 519.90,91.95 520.60,92.13 521.30,92.39 522.00,92.67 522.70,92.19 523.40,92.54 524.10,92.91 524.80,92.88 525.50,92.63 526.20,92.70 526.90,92.76 527.60,92.63 528.30,92.85 529.00,92.69 529.70,92.87 530.40,93.27 531.10,93.62 531.80,93.07 532.50,93.31 533.20,93.17 533.90,93.80 534.60,93.75 535.30,93.83 536.00,93.83 536.70,93.72 537.40,93.76 538.10,93.31 538.80,93.40" fill="none" stroke="#111" stroke-width="1.3" stroke-linejoin="round" />
<polygon points="542.50,57.12 543.20,56.80 543.90,56.67 544.60,56.22 545.30,56.68 546.00,56.76 546.70,56.00 547.40,55.95 548.10,56.49 548.80,56.10 549.50,56.30 550.20,56.24 550.90,56.03 551.60,55.82 552.30,55.55 553.00,55.76 553.70,56.24 554.40,55.37 555.10,55.13 555.80,56.00 556.50,55.82 557.20,55.44 557.90,54.91 558.60,54.93 559.30,55.49 560.00,54.94 560.70,55.52 561.40,55.64 562.10,54.48 562.80,55.33 563.50,55.34 564.20,54.91 564.90,54.82 565.60,54.78 566.30,54.61 567.00,54.51 567.70,54.05 568.40,53.78 568.40,74.85 567.70,74.88 567.00,75.14 566.30,75.18 565.60,76.15 564.90,75.26 564.20,75.94 563.50,76.06 562.80,75.58 562.10,75.91 561.40,76.10 560.70,76.32 560.00,76.40 559.30,76.19 558.60,76.50 557.90,76.44 557.20,75.98 556.50,76.72 555.80,77.23 555.10,76.98 554.40,76.75 553.70,76.90 553.00,76.77 552.30,76.91 551.60,77.55 550.90,76.63 550.20,77.39 549.50,76.88 548.80,77.94 548.10,77.12 547.40,77.65 546.70,77.10 546.00,78.09 545.30,78.20 544.60,78.29 543.90,77.55 543.20,77.36 542.50,78.13" fill="#878787" />
<polygon points="542.50,63.03 543.20,62.97 543.90,63.27 544.60,63.29 545.30,62.14 546.00,63.08 546.70,62.96 547.40,61.59 548.10,62.20 548.80,61.59 549.50,62.69 550.20,62.52 550.90,61.43 551.60,61.29 552.30,62.43 553.00,61.20 553.70,61.45 554.40,61.72 555.10,61.29 555.80,61.98 556.50,62.02 557.20,62.05 557.90,61.75 558.60,61.19 559.30,61.02 560.00,61.04 560.70,60.14 561.40,60.10 562.10,61.51 562.80,60.29 563.50,61.26 564.20,61.04 564.90,60.33 565.60,60.57 566.30,60.47 567.00,59.77 567.70,59.48 568.40,59.53 568.40,69.80 567.70,69.13 567.00,70.51 566.30,70.14 565.60,69.13 564.90,69.38 564.20,70.25 563.50,69.36 562.80,69.47 562.10,69.51 561.40,70.88 560.70,70.79 560.00,69.96 559.30,71.24 558.60,70.64 557.90,70.92 557.20,71.33 556.50,71.20 555.80,71.20 555.10,70.75 554.40,70.60 553.70,70.60 553.00,70.40 552.30,71.93 551.60,71.94 550.90,71.76 550.20,70.76 549.50,71.90 548.80,71.78 548.10,71.60 547.40,71.12 546.70,72.24 546.00,72.08 545.30,71.59 544.60,71.72 543.90,71.67 543.20,71.89 542.50,72.88" fill="#686868" />
<line x1="542.50" y1="58.89" x2="542.50" y2="79.07" stroke="#9a9a9a" stroke-width="0.5" />
<line x1="544.60" y1="57.12" x2="544.60" y2="76.72" stroke="#5e5e5e" stroke-width="0.5" />
<line x1="545.30" y1="58.36" x2="545.30" y2="77.11" stroke="#6a6a6a" stroke-width="0.5" />
<line x1="548.10" y1="56.87" x2="548.10" y2="76.77" stroke="#8e8e8e" stroke-width="0.5" />
<line x1="550.20" y1="56.91" x2="550.20" y2="76.41" stroke="#6a6a6a" stroke-width="0.5" />
<line x1="554.40" y1="57.95" x2="554.40" y2="78.00" stroke="#6a6a6a" stroke-width="0.5" />
<line x1="555.10" y1="54.70" x2="555.10" y2="76.57" stroke="#5e5e5e" stroke-width="0.5" />
<line x1="555.80" y1="58.60" x2="555.80" y2="76.17" stroke="#5e5e5e" stroke-width="0.5" />
<line x1="557.20" y1="55.81" x2="557.20" y2="75.28" stroke="#5e5e5e" stroke-width="0.5" />
<line x1="557.90" y1="56.84" x2="557.90" y2="75.10" stroke="#8e8e8e" stroke-width="0.5" />
<line x1="558.60" y1="57.92" x2="558.60" y2="75.62" stroke="#9a9a9a" stroke-width="0.5" />
<line x1="561.40" y1="56.25" x2="561.40" y2="76.18" stroke="#5e5e5e" stroke-width="0.5" />
<line x1="562.10" y1="54.98" x2="562.10" y2="73.71" stroke="#9a9a9a" stroke-width="0.5" />
<line x1="564.20" y1="55.27" x2="564.20" y2="76.28" stroke="#6a6a6a" stroke-width="0.5" />
<line x1="564.90" y1="55.31" x2="564.90" y2="76.71" stroke="#6a6a6a" stroke-width="0.5" />
<line x1="566.30" y1="56.49" x2="566.30" y2="76.31" stroke="#6a6a6a" stroke-width="0.5" />
<line x1="565.60" y1="51.27" x2="565.60" y2="78.37" stroke="#8a8a8a" stroke-width="0.6" />
<line x1="550.90" y1="53.10" x2="550.90" y2="81.99" stroke="#8a8a8a" stroke-width="0.6" />
<line x1="546.70" y1="53.89" x2="546.70" y2="81.52" stroke="#8a8a8a" stroke-width="0.6" />
<polyline points="542.50,67.20 543.20,67.09 543.90,67.01 544.60,67.08 545.30,67.01 546.00,66.92 546.70,66.70 547.40,67.35 548.10,66.71 548.80,67.19 549.50,66.74 550.20,66.26 550.90,66.95 551.60,66.50 552.30,66.24 553.00,66.85 553.70,66.17 554.40,65.85 555.10,65.99 555.80,66.35 556.50,65.62 557.20,65.77 557.90,66.25 558.60,66.04 559.30,65.87 560.00,65.85 560.70,65.96 561.40,65.73 562.10,65.65 562.80,65.78 563.50,65.50 564.20,65.38 564.90,64.99 565.60,64.87 566.30,64.75 567.00,64.96 567.70,64.73 568.40,65.06" fill="none" stroke="#111" stroke-width="1.3" stroke-linejoin="round" />
<polygon points="574.00,65.05 574.70,71.61 575.40,76.54 576.10,79.98 576.80,81.29 577.50,83.39 578.20,83.78 578.90,83.75 579.60,85.10 580.30,84.92 581.00,85.23 581.70,85.58 582.40,85.66 583.10,85.02 583.80,84.67 584.50,85.67 585.20,85.77 585.90,84.82 586.60,84.99 587.30,84.96 588.00,85.56 588.00,102.84 587.30,101.93 586.60,102.11 585.90,102.70 585.20,102.23 584.50,101.92 583.80,102.23 583.10,101.65 582.40,102.54 581.70,101.98 581.00,101.85 580.30,102.19 579.60,101.62 578.90,101.92 578.20,100.42 577.50,99.99 576.80,99.22 576.10,97.00 575.40,93.80 574.70,89.08 574.00,81.28" fill="#878787" />
<polygon points="574.00,69.06 574.70,75.89 575.40,80.66 576.10,85.06 576.80,86.58 577.50,87.93 578.20,88.60 578.90,88.38 579.60,89.03 580.30,89.41 581.00,90.44 581.70,90.56 582.40,90.66 583.10,90.64 583.80,89.87 584.50,89.41 585.20,90.64 585.90,89.27 586.60,90.44 587.30,89.48 588.00,90.20 588.00,97.97 587.30,98.12 586.60,97.05 585.90,97.88 585.20,98.14 584.50,98.07 583.80,97.44 583.10,98.35 582.40,97.93 581.70,97.70 581.00,97.81 580.30,97.17 579.60,97.45 578.90,96.22 578.20,96.45 577.50,95.60 576.80,94.80 576.10,92.33 575.40,88.96 574.70,84.73 574.00,77.38" fill="#686868" />
<line x1="574.00" y1="66.02" x2="574.00" y2="80.02" stroke="#9a9a9a" stroke-width="0.5" />
<line x1="574.70" y1="73.29" x2="574.70" y2="88.89" stroke="#8e8e8e" stroke-width="0.5" />
<line x1="575.40" y1="76.52" x2="575.40" y2="92.39" stroke="#5e5e5e" stroke-width="0.5" />
<line x1="578.20" y1="86.04" x2="578.20" y2="100.65" stroke="#5e5e5e" stroke-width="0.5" />
<line x1="579.60" y1="83.50" x2="579.60" y2="99.99" stroke="#5e5e5e" stroke-width="0.5" />
<line x1="581.70" y1="85.67" x2="581.70" y2="102.66" stroke="#6a6a6a" stroke-width="0.5" />
<line x1="583.80" y1="87.76" x2="583.80" y2="101.99" stroke="#5e5e5e" stroke-width="0.5" />
<line x1="587.30" y1="86.91" x2="587.30" y2="101.68" stroke="#9a9a9a" stroke-width="0.5" />
<line x1="576.10" y1="75.50" x2="576.10" y2="99.52" stroke="#8a8a8a" stroke-width="0.6" />
<line x1="578.90" y1="79.02" x2="578.90" y2="104.75" stroke="#8a8a8a" stroke-width="0.6" />
<line x1="585.90" y1="83.05" x2="585.90" y2="105.69" stroke="#8a8a8a" stroke-width="0.6" />
<polyline points="574.00,72.75 574.70,80.41 575.40,85.16 576.10,88.26 576.80,90.52 577.50,91.03 578.20,92.61 578.90,92.80 579.60,93.23 580.30,93.54 581.00,93.85 581.70,93.52 582.40,93.62 583.10,94.14 583.80,93.37 584.50,93.89 585.20,93.90 585.90,93.36 586.60,93.89 587.30,93.96 588.00,94.19" fill="none" stroke="#111" stroke-width="1.3" stroke-linejoin="round" />
<rect x="466.80" y="8.70" width="2.30" height="125.80" fill="#0a0a0a" stroke="none" stroke-width="1" />
<rect x="492.30" y="8.70" width="2.80" height="125.80" fill="#0a0a0a" stroke="none" stroke-width="1" />
<rect x="497.40" y="8.70" width="3.20" height="125.80" fill="#0a0a0a" stroke="none" stroke-width="1" />
<rect x="539.60" y="8.70" width="2.60" height="125.80" fill="#0a0a0a" stroke="none" stroke-width="1" />
<rect x="569.20" y="8.70" width="4.50" height="125.80" fill="#0a0a0a" stroke="none" stroke-width="1" />
<rect x="465.40" y="67.00" width="2.00" height="21.00" fill="#111" stroke="none" stroke-width="1" />
<rect x="495.00" y="56.00" width="2.50" height="44.00" fill="#a8a8a8" stroke="none" stroke-width="1" />
<rect x="495.00" y="100.00" width="2.50" height="34.50" fill="#3c3c3c" stroke="none" stroke-width="1" />
<line x1="431.00" y1="8.70" x2="431.00" y2="135.00" stroke="#555" stroke-width="1" />
<line x1="430.50" y1="134.50" x2="598.40" y2="134.50" stroke="#555" stroke-width="1" />
<line x1="431.00" y1="134.50" x2="432.60" y2="134.50" stroke="#555" stroke-width="0.8" />
<text transform="translate(428.60,137.60) scale(1,1.13)" x="0" y="0" font-size="8.1" font-weight="normal" font-style="normal" fill="#555" text-anchor="end" stroke="#555" stroke-width="0.25">0</text>
<line x1="431.00" y1="109.40" x2="432.60" y2="109.40" stroke="#555" stroke-width="0.8" />
<text transform="translate(428.60,112.50) scale(1,1.13)" x="0" y="0" font-size="8.1" font-weight="normal" font-style="normal" fill="#555" text-anchor="end" stroke="#555" stroke-width="0.25">2</text>
<line x1="431.00" y1="84.30" x2="432.60" y2="84.30" stroke="#555" stroke-width="0.8" />
<text transform="translate(428.60,87.40) scale(1,1.13)" x="0" y="0" font-size="8.1" font-weight="normal" font-style="normal" fill="#555" text-anchor="end" stroke="#555" stroke-width="0.25">4</text>
<line x1="431.00" y1="59.20" x2="432.60" y2="59.20" stroke="#555" stroke-width="0.8" />
<text transform="translate(428.60,62.30) scale(1,1.13)" x="0" y="0" font-size="8.1" font-weight="normal" font-style="normal" fill="#555" text-anchor="end" stroke="#555" stroke-width="0.25">6</text>
<line x1="431.00" y1="34.10" x2="432.60" y2="34.10" stroke="#555" stroke-width="0.8" />
<text transform="translate(428.60,37.20) scale(1,1.13)" x="0" y="0" font-size="8.1" font-weight="normal" font-style="normal" fill="#555" text-anchor="end" stroke="#555" stroke-width="0.25">8</text>
<line x1="431.00" y1="9.00" x2="432.60" y2="9.00" stroke="#555" stroke-width="0.8" />
<text transform="translate(428.60,12.10) scale(1,1.13)" x="0" y="0" font-size="8.1" font-weight="normal" font-style="normal" fill="#555" text-anchor="end" stroke="#555" stroke-width="0.25">10</text>
<line x1="463.00" y1="134.50" x2="463.00" y2="132.90" stroke="#555" stroke-width="0.8" />
<text transform="translate(463.00,145.50) scale(1,1.13)" x="0" y="0" font-size="8.1" font-weight="normal" font-style="normal" fill="#555" text-anchor="middle" stroke="#555" stroke-width="0.25">1000</text>
<line x1="516.80" y1="134.50" x2="516.80" y2="132.90" stroke="#555" stroke-width="0.8" />
<text transform="translate(516.80,145.50) scale(1,1.13)" x="0" y="0" font-size="8.1" font-weight="normal" font-style="normal" fill="#555" text-anchor="middle" stroke="#555" stroke-width="0.25">1500</text>
<line x1="570.60" y1="134.50" x2="570.60" y2="132.90" stroke="#555" stroke-width="0.8" />
<text transform="translate(570.60,145.50) scale(1,1.13)" x="0" y="0" font-size="8.1" font-weight="normal" font-style="normal" fill="#555" text-anchor="middle" stroke="#555" stroke-width="0.25">2000</text>
<text transform="translate(514.60,157.30) scale(1,1.08)" x="0" y="0" font-size="9.0" font-weight="bold" font-style="normal" fill="#333" text-anchor="middle" >Time / s</text>
<text transform="translate(410.9,72.3) rotate(-90)" font-size="9.8" font-weight="bold" fill="#333" text-anchor="middle"><tspan font-style="italic">i</tspan><tspan font-size="6.5" dy="2.2">T</tspan><tspan dy="-2.2"> / pA</tspan></text>
<text transform="translate(480.90,42.40) scale(1,1.1)" x="0" y="0" font-size="7.55" font-weight="normal" font-style="normal" fill="#444" text-anchor="middle" stroke="#444" stroke-width="0.2">Brains</text>
<text transform="translate(555.90,42.40) scale(1,1.1)" x="0" y="0" font-size="7.55" font-weight="normal" font-style="normal" fill="#444" text-anchor="middle" stroke="#444" stroke-width="0.2">Brains</text>
<text transform="translate(437.00,116.30) scale(1,1.12)" x="0" y="0" font-size="8.0" font-weight="normal" font-style="normal" fill="#333" text-anchor="start" stroke="#333" stroke-width="0.25">aCSF</text>
<text transform="translate(510.00,116.30) scale(1,1.12)" x="0" y="0" font-size="8.0" font-weight="normal" font-style="normal" fill="#333" text-anchor="start" stroke="#333" stroke-width="0.25">aCSF</text>
<text transform="translate(576.00,116.90) scale(1,1.12)" x="0" y="0" font-size="8.0" font-weight="normal" font-style="normal" fill="#333" text-anchor="start" stroke="#333" stroke-width="0.25">aCSF</text>
<rect x="595.70" y="38.40" width="81.60" height="61.30" fill="#fff" stroke="none" stroke-width="1" />
<rect x="596.20" y="75.90" width="46.30" height="11.32" fill="#c4c4c4" stroke="none" stroke-width="1" />
<polygon points="596.20,73.23 597.60,72.91 599.00,73.14 600.40,73.15 601.80,72.95 603.20,73.38 604.60,73.04 606.00,73.08 607.40,73.23 608.80,72.97 610.20,73.21 611.60,73.16 613.00,73.13 614.40,73.01 615.80,73.29 617.20,73.18 618.60,73.19 620.00,73.12 621.40,72.98 622.80,73.25 624.20,72.98 625.60,73.19 627.00,73.14 628.40,73.26 629.80,73.14 631.20,72.91 632.60,73.07 634.00,73.00 635.40,73.23 636.80,73.24 638.20,73.25 639.60,73.10 641.00,73.08 642.40,73.00 642.40,80.42 641.00,80.76 639.60,80.84 638.20,80.67 636.80,80.42 635.40,80.55 634.00,80.40 632.60,80.49 631.20,80.86 629.80,80.70 628.40,80.73 627.00,80.79 625.60,80.85 624.20,80.70 622.80,80.70 621.40,80.71 620.00,80.74 618.60,80.69 617.20,80.74 615.80,80.50 614.40,80.73 613.00,80.63 611.60,80.78 610.20,80.45 608.80,80.49 607.40,80.41 606.00,80.78 604.60,80.85 603.20,80.72 601.80,80.58 600.40,80.81 599.00,80.79 597.60,80.68 596.20,80.53" fill="#a4a4a4" />
<polygon points="596.20,82.76 597.60,82.70 599.00,82.75 600.40,82.70 601.80,82.59 603.20,82.45 604.60,82.89 606.00,82.63 607.40,82.89 608.80,82.85 610.20,82.51 611.60,82.63 613.00,82.45 614.40,82.69 615.80,82.91 617.20,82.72 618.60,82.62 620.00,82.45 621.40,82.42 622.80,82.68 624.20,82.71 625.60,82.86 627.00,82.59 628.40,82.81 629.80,82.84 631.20,82.91 632.60,82.91 634.00,82.57 635.40,82.85 636.80,82.43 638.20,82.87 639.60,82.48 641.00,82.85 642.40,82.91 642.40,89.87 641.00,89.64 639.60,89.88 638.20,89.61 636.80,89.54 635.40,89.90 634.00,89.87 632.60,89.94 631.20,89.88 629.80,89.56 628.40,89.83 627.00,89.87 625.60,89.74 624.20,89.98 622.80,89.64 621.40,90.00 620.00,89.87 618.60,89.52 617.20,89.52 615.80,89.84 614.40,89.92 613.00,89.55 611.60,89.67 610.20,89.88 608.80,89.60 607.40,89.94 606.00,89.76 604.60,89.54 603.20,89.70 601.80,89.80 600.40,89.73 599.00,89.85 597.60,89.59 596.20,89.91" fill="#959595" />
<rect x="596.20" y="79.10" width="46.30" height="1.60" fill="#bdbdbd" stroke="none" stroke-width="1" />
<polyline points="596.20,76.83 597.20,76.97 598.20,76.96 599.20,76.86 600.20,76.84 601.20,77.04 602.20,77.12 603.20,77.04 604.20,76.93 605.20,76.79 606.20,76.68 607.20,77.13 608.20,77.00 609.20,77.06 610.20,76.81 611.20,76.95 612.20,77.14 613.20,77.06 614.20,76.95 615.20,76.80 616.20,76.86 617.20,77.09 618.20,76.83 619.20,76.99 620.20,76.95 621.20,77.09 622.20,77.05 623.20,76.79 624.20,76.65 625.20,76.78 626.20,76.86 627.20,76.94 628.20,77.05 629.20,77.09 630.20,76.67 631.20,77.06 632.20,77.05 633.20,77.08 634.20,76.93 635.20,76.78 636.20,77.07 637.20,77.05 638.20,76.99 639.20,77.10 640.20,76.82 641.20,76.69" fill="none" stroke="#444" stroke-width="0.8" stroke-linejoin="round" />
<polyline points="596.20,86.24 597.20,86.36 598.20,86.06 599.20,86.34 600.20,86.43 601.20,86.08 602.20,86.27 603.20,86.30 604.20,86.20 605.20,86.07 606.20,86.09 607.20,86.34 608.20,86.36 609.20,86.19 610.20,86.01 611.20,86.37 612.20,86.35 613.20,86.08 614.20,86.25 615.20,86.41 616.20,86.41 617.20,86.22 618.20,86.20 619.20,86.26 620.20,86.06 621.20,86.06 622.20,86.05 623.20,86.31 624.20,86.15 625.20,86.25 626.20,86.17 627.20,86.22 628.20,86.04 629.20,85.99 630.20,86.46 631.20,86.15 632.20,86.02 633.20,86.28 634.20,86.36 635.20,86.04 636.20,86.26 637.20,86.14 638.20,86.22 639.20,85.97 640.20,85.98 641.20,86.46" fill="none" stroke="#1a1a1a" stroke-width="0.9" stroke-linejoin="round" />
<circle cx="601" cy="86.21" r="0.9" fill="#111"/>
<circle cx="611.5" cy="86.21" r="0.9" fill="#111"/>
<circle cx="620.5" cy="86.21" r="0.9" fill="#111"/>
<circle cx="627" cy="86.21" r="0.9" fill="#111"/>
<circle cx="636" cy="86.21" r="0.9" fill="#111"/>
<circle cx="602" cy="76.90" r="0.8" fill="#222"/>
<polyline points="640.50,83.76 641.30,69.05 642.50,83.76" fill="none" stroke="#888" stroke-width="0.8" stroke-linejoin="round" />
<polygon points="646.50,62.01 647.20,62.10 647.90,62.19 648.60,62.28 649.30,62.37 650.00,62.46 650.70,62.54 651.40,62.62 652.10,62.70 652.80,62.78 653.50,62.85 654.20,62.92 654.90,62.98 655.60,63.04 656.30,63.09 657.00,63.14 657.70,63.18 658.40,63.22 659.10,63.25 659.80,63.27 660.50,63.29 661.20,63.30 661.90,63.30 662.60,63.30 663.30,63.29 664.00,63.28 664.70,63.26 665.40,63.23 666.10,63.19 666.80,63.15 667.50,63.11 668.20,63.06 668.90,63.00 669.60,62.94 670.30,62.87 671.00,62.80 671.70,62.72 672.40,62.65 673.10,62.57 673.80,62.48 674.50,62.40 675.20,62.31 675.90,62.22 676.60,62.13 676.60,69.33 675.90,69.42 675.20,69.51 674.50,69.60 673.80,69.68 673.10,69.77 672.40,69.85 671.70,69.92 671.00,70.00 670.30,70.07 669.60,70.14 668.90,70.20 668.20,70.26 667.50,70.31 666.80,70.35 666.10,70.39 665.40,70.43 664.70,70.46 664.00,70.48 663.30,70.49 662.60,70.50 661.90,70.50 661.20,70.50 660.50,70.49 659.80,70.47 659.10,70.45 658.40,70.42 657.70,70.38 657.00,70.34 656.30,70.29 655.60,70.24 654.90,70.18 654.20,70.12 653.50,70.05 652.80,69.98 652.10,69.90 651.40,69.82 650.70,69.74 650.00,69.66 649.30,69.57 648.60,69.48 647.90,69.39 647.20,69.30 646.50,69.21" fill="#a2a2a2" />
<polygon points="646.50,61.76 647.20,61.76 647.90,61.16 648.60,60.17 649.30,59.26 650.00,58.41 650.70,57.63 651.40,56.91 652.10,56.24 652.80,55.62 653.50,55.05 654.20,54.52 654.90,54.03 655.60,53.57 656.30,53.15 657.00,52.77 657.70,52.41 658.40,52.07 659.10,51.77 659.80,51.48 660.50,51.22 661.20,50.98 661.90,50.75 662.60,50.54 663.30,50.35 664.00,50.17 664.70,50.01 665.40,49.85 666.10,49.71 666.80,49.58 667.50,49.46 668.20,49.35 668.90,49.25 669.60,49.15 670.30,49.06 671.00,48.98 671.70,48.90 672.40,48.83 673.10,48.77 673.80,48.71 674.50,48.65 675.20,48.60 675.90,48.55 676.60,48.51 676.60,54.51 675.90,54.55 675.20,54.60 674.50,54.65 673.80,54.71 673.10,54.77 672.40,54.83 671.70,54.90 671.00,54.98 670.30,55.06 669.60,55.15 668.90,55.25 668.20,55.35 667.50,55.46 666.80,55.58 666.10,55.71 665.40,55.85 664.70,56.01 664.00,56.17 663.30,56.35 662.60,56.54 661.90,56.75 661.20,56.98 660.50,57.22 659.80,57.48 659.10,57.77 658.40,58.07 657.70,58.41 657.00,58.77 656.30,59.15 655.60,59.57 654.90,60.03 654.20,60.52 653.50,61.05 652.80,61.62 652.10,62.24 651.40,62.91 650.70,63.63 650.00,64.41 649.30,65.26 648.60,66.17 647.90,67.16 647.20,67.76 646.50,67.76" fill="#969696" />
<polyline points="646.50,65.61 647.20,65.70 647.90,65.79 648.60,65.88 649.30,65.97 650.00,66.06 650.70,66.14 651.40,66.22 652.10,66.30 652.80,66.38 653.50,66.45 654.20,66.52 654.90,66.58 655.60,66.64 656.30,66.69 657.00,66.74 657.70,66.78 658.40,66.82 659.10,66.85 659.80,66.87 660.50,66.89 661.20,66.90 661.90,66.90 662.60,66.90 663.30,66.89 664.00,66.88 664.70,66.86 665.40,66.83 666.10,66.79 666.80,66.75 667.50,66.71 668.20,66.66 668.90,66.60 669.60,66.54 670.30,66.47 671.00,66.40 671.70,66.32 672.40,66.25 673.10,66.17 673.80,66.08 674.50,66.00 675.20,65.91 675.90,65.82 676.60,65.73" fill="none" stroke="#333" stroke-width="0.8" stroke-linejoin="round" />
<polyline points="646.50,64.76 647.20,64.76 647.90,64.16 648.60,63.17 649.30,62.26 650.00,61.41 650.70,60.63 651.40,59.91 652.10,59.24 652.80,58.62 653.50,58.05 654.20,57.52 654.90,57.03 655.60,56.57 656.30,56.15 657.00,55.77 657.70,55.41 658.40,55.07 659.10,54.77 659.80,54.48 660.50,54.22 661.20,53.98 661.90,53.75 662.60,53.54 663.30,53.35 664.00,53.17 664.70,53.01 665.40,52.85 666.10,52.71 666.80,52.58 667.50,52.46 668.20,52.35 668.90,52.25 669.60,52.15 670.30,52.06 671.00,51.98 671.70,51.90 672.40,51.83 673.10,51.77 673.80,51.71 674.50,51.65 675.20,51.60 675.90,51.55 676.60,51.51" fill="none" stroke="#444" stroke-width="0.8" stroke-linejoin="round" />
<polyline points="646.50,41.47 648.00,65.37 650.00,61.41" fill="none" stroke="#999" stroke-width="0.7" stroke-linejoin="round" />
<rect x="643.30" y="38.40" width="2.50" height="61.30" fill="#111" stroke="none" stroke-width="1" />
<rect x="595.70" y="38.40" width="81.60" height="61.30" fill="none" stroke="#888" stroke-width="0.6" />
<line x1="595.70" y1="99.70" x2="596.70" y2="99.70" stroke="#888" stroke-width="0.5" />
<text x="594.00" y="101.20" font-size="4.2" font-weight="normal" font-style="normal" fill="#777" text-anchor="end" >0</text>
<line x1="595.70" y1="87.44" x2="596.70" y2="87.44" stroke="#888" stroke-width="0.5" />
<text x="594.00" y="88.94" font-size="4.2" font-weight="normal" font-style="normal" fill="#777" text-anchor="end" >2</text>
<line x1="595.70" y1="75.18" x2="596.70" y2="75.18" stroke="#888" stroke-width="0.5" />
<text x="594.00" y="76.68" font-size="4.2" font-weight="normal" font-style="normal" fill="#777" text-anchor="end" >4</text>
<line x1="595.70" y1="62.92" x2="596.70" y2="62.92" stroke="#888" stroke-width="0.5" />
<text x="594.00" y="64.42" font-size="4.2" font-weight="normal" font-style="normal" fill="#777" text-anchor="end" >6</text>
<line x1="595.70" y1="50.66" x2="596.70" y2="50.66" stroke="#888" stroke-width="0.5" />
<text x="594.00" y="52.16" font-size="4.2" font-weight="normal" font-style="normal" fill="#777" text-anchor="end" >8</text>
<line x1="595.70" y1="38.40" x2="596.70" y2="38.40" stroke="#888" stroke-width="0.5" />
<text x="594.00" y="39.90" font-size="4.2" font-weight="normal" font-style="normal" fill="#777" text-anchor="end" >10</text>
<line x1="599.10" y1="99.70" x2="599.10" y2="98.70" stroke="#888" stroke-width="0.5" />
<line x1="599.10" y1="38.40" x2="599.10" y2="39.40" stroke="#888" stroke-width="0.5" />
<text x="599.10" y="105.50" font-size="4.2" font-weight="normal" font-style="normal" fill="#777" text-anchor="middle" >800</text>
<line x1="617.30" y1="99.70" x2="617.30" y2="98.70" stroke="#888" stroke-width="0.5" />
<line x1="617.30" y1="38.40" x2="617.30" y2="39.40" stroke="#888" stroke-width="0.5" />
<text x="617.30" y="105.50" font-size="4.2" font-weight="normal" font-style="normal" fill="#777" text-anchor="middle" >900</text>
<line x1="635.50" y1="99.70" x2="635.50" y2="98.70" stroke="#888" stroke-width="0.5" />
<line x1="635.50" y1="38.40" x2="635.50" y2="39.40" stroke="#888" stroke-width="0.5" />
<text x="635.50" y="105.50" font-size="4.2" font-weight="normal" font-style="normal" fill="#777" text-anchor="middle" >1000</text>
<line x1="653.70" y1="99.70" x2="653.70" y2="98.70" stroke="#888" stroke-width="0.5" />
<line x1="653.70" y1="38.40" x2="653.70" y2="39.40" stroke="#888" stroke-width="0.5" />
<text x="653.70" y="105.50" font-size="4.2" font-weight="normal" font-style="normal" fill="#777" text-anchor="middle" >1100</text>
<line x1="671.90" y1="99.70" x2="671.90" y2="98.70" stroke="#888" stroke-width="0.5" />
<line x1="671.90" y1="38.40" x2="671.90" y2="39.40" stroke="#888" stroke-width="0.5" />
<text x="671.90" y="105.50" font-size="4.2" font-weight="normal" font-style="normal" fill="#777" text-anchor="middle" >1200</text>
<text x="660.00" y="49.20" font-size="7.6" font-weight="normal" font-style="normal" fill="#aaa" text-anchor="middle" >ZT 2</text>
<text x="665.10" y="82.40" font-size="7.6" font-weight="bold" font-style="normal" fill="#111" text-anchor="middle" >ZT 5</text>
<line x1="31.90" y1="194.10" x2="31.90" y2="336.90" stroke="#3a3a3a" stroke-width="1.3" />
<line x1="216.60" y1="194.10" x2="216.60" y2="336.90" stroke="#3a3a3a" stroke-width="1.3" />
<line x1="31.30" y1="336.30" x2="217.20" y2="336.30" stroke="#3a3a3a" stroke-width="1.3" />
<rect x="31.90" y="191.90" width="92.35" height="5.00" fill="#fff" stroke="#111" stroke-width="1.1" />
<rect x="124.25" y="191.40" width="92.85" height="6.00" fill="#050505" stroke="none" stroke-width="1" />
<line x1="31.90" y1="336.30" x2="33.70" y2="336.30" stroke="#333" stroke-width="0.8" />
<line x1="216.60" y1="336.30" x2="214.80" y2="336.30" stroke="#333" stroke-width="0.8" />
<text x="28.60" y="339.90" font-size="10.0" font-weight="normal" font-style="normal" fill="#333" text-anchor="end" >0</text>
<line x1="31.90" y1="312.60" x2="33.70" y2="312.60" stroke="#333" stroke-width="0.8" />
<line x1="216.60" y1="312.60" x2="214.80" y2="312.60" stroke="#333" stroke-width="0.8" />
<text x="28.60" y="316.20" font-size="10.0" font-weight="normal" font-style="normal" fill="#333" text-anchor="end" >1</text>
<line x1="31.90" y1="288.90" x2="33.70" y2="288.90" stroke="#333" stroke-width="0.8" />
<line x1="216.60" y1="288.90" x2="214.80" y2="288.90" stroke="#333" stroke-width="0.8" />
<text x="28.60" y="292.50" font-size="10.0" font-weight="normal" font-style="normal" fill="#333" text-anchor="end" >2</text>
<line x1="31.90" y1="265.20" x2="33.70" y2="265.20" stroke="#333" stroke-width="0.8" />
<line x1="216.60" y1="265.20" x2="214.80" y2="265.20" stroke="#333" stroke-width="0.8" />
<text x="28.60" y="268.80" font-size="10.0" font-weight="normal" font-style="normal" fill="#333" text-anchor="end" >3</text>
<line x1="31.90" y1="241.50" x2="33.70" y2="241.50" stroke="#333" stroke-width="0.8" />
<line x1="216.60" y1="241.50" x2="214.80" y2="241.50" stroke="#333" stroke-width="0.8" />
<text x="28.60" y="245.10" font-size="10.0" font-weight="normal" font-style="normal" fill="#333" text-anchor="end" >4</text>
<line x1="31.90" y1="217.80" x2="33.70" y2="217.80" stroke="#333" stroke-width="0.8" />
<line x1="216.60" y1="217.80" x2="214.80" y2="217.80" stroke="#333" stroke-width="0.8" />
<text x="28.60" y="221.40" font-size="10.0" font-weight="normal" font-style="normal" fill="#333" text-anchor="end" >5</text>
<line x1="31.90" y1="194.10" x2="33.70" y2="194.10" stroke="#333" stroke-width="0.8" />
<line x1="216.60" y1="194.10" x2="214.80" y2="194.10" stroke="#333" stroke-width="0.8" />
<text x="28.60" y="197.70" font-size="10.0" font-weight="normal" font-style="normal" fill="#333" text-anchor="end" >6</text>
<line x1="31.90" y1="336.30" x2="31.90" y2="334.50" stroke="#333" stroke-width="0.8" />
<text x="31.90" y="349.60" font-size="10.0" font-weight="normal" font-style="normal" fill="#333" text-anchor="middle" >0</text>
<line x1="62.68" y1="336.30" x2="62.68" y2="334.50" stroke="#333" stroke-width="0.8" />
<text x="62.68" y="349.60" font-size="10.0" font-weight="normal" font-style="normal" fill="#333" text-anchor="middle" >4</text>
<line x1="93.47" y1="336.30" x2="93.47" y2="334.50" stroke="#333" stroke-width="0.8" />
<text x="93.47" y="349.60" font-size="10.0" font-weight="normal" font-style="normal" fill="#333" text-anchor="middle" >8</text>
<line x1="124.25" y1="336.30" x2="124.25" y2="334.50" stroke="#333" stroke-width="0.8" />
<text x="124.25" y="349.60" font-size="10.0" font-weight="normal" font-style="normal" fill="#333" text-anchor="middle" >12</text>
<line x1="155.03" y1="336.30" x2="155.03" y2="334.50" stroke="#333" stroke-width="0.8" />
<text x="155.03" y="349.60" font-size="10.0" font-weight="normal" font-style="normal" fill="#333" text-anchor="middle" >16</text>
<line x1="185.82" y1="336.30" x2="185.82" y2="334.50" stroke="#333" stroke-width="0.8" />
<text x="185.82" y="349.60" font-size="10.0" font-weight="normal" font-style="normal" fill="#333" text-anchor="middle" >20</text>
<line x1="216.60" y1="336.30" x2="216.60" y2="334.50" stroke="#333" stroke-width="0.8" />
<text x="216.60" y="349.60" font-size="10.0" font-weight="normal" font-style="normal" fill="#333" text-anchor="middle" >24</text>
<text x="78.20" y="206.30" font-size="6.6" font-weight="bold" font-style="normal" fill="#111" text-anchor="middle" >LIGHT</text>
<text x="170.70" y="206.50" font-size="6.4" font-weight="bold" font-style="normal" fill="#111" text-anchor="middle" >DARK</text>
<line x1="35.75" y1="294.35" x2="35.75" y2="302.41" stroke="#444" stroke-width="0.8" />
<line x1="34.15" y1="294.35" x2="37.35" y2="294.35" stroke="#444" stroke-width="0.8" />
<line x1="34.15" y1="302.41" x2="37.35" y2="302.41" stroke="#444" stroke-width="0.8" />
<line x1="47.29" y1="197.66" x2="47.29" y2="223.73" stroke="#444" stroke-width="0.8" />
<line x1="45.69" y1="197.66" x2="48.89" y2="197.66" stroke="#444" stroke-width="0.8" />
<line x1="45.69" y1="223.73" x2="48.89" y2="223.73" stroke="#444" stroke-width="0.8" />
<line x1="70.38" y1="313.07" x2="70.38" y2="315.44" stroke="#444" stroke-width="0.8" />
<line x1="68.78" y1="313.07" x2="71.98" y2="313.07" stroke="#444" stroke-width="0.8" />
<line x1="68.78" y1="315.44" x2="71.98" y2="315.44" stroke="#444" stroke-width="0.8" />
<line x1="108.86" y1="258.80" x2="108.86" y2="285.82" stroke="#444" stroke-width="0.8" />
<line x1="107.26" y1="258.80" x2="110.46" y2="258.80" stroke="#444" stroke-width="0.8" />
<line x1="107.26" y1="285.82" x2="110.46" y2="285.82" stroke="#444" stroke-width="0.8" />
<line x1="131.95" y1="197.66" x2="131.95" y2="234.63" stroke="#444" stroke-width="0.8" />
<line x1="130.35" y1="197.66" x2="133.55" y2="197.66" stroke="#444" stroke-width="0.8" />
<line x1="130.35" y1="234.63" x2="133.55" y2="234.63" stroke="#444" stroke-width="0.8" />
<line x1="193.51" y1="279.42" x2="193.51" y2="292.69" stroke="#444" stroke-width="0.8" />
<line x1="191.91" y1="279.42" x2="195.11" y2="279.42" stroke="#444" stroke-width="0.8" />
<line x1="191.91" y1="292.69" x2="195.11" y2="292.69" stroke="#444" stroke-width="0.8" />
<polyline points="35.75,298.38 47.29,210.69 70.38,314.26 108.86,272.31 131.95,216.14 193.51,286.06" fill="none" stroke="#111" stroke-width="1.4" stroke-linejoin="round" />
<rect x="33.45" y="296.08" width="4.60" height="4.60" fill="#111" stroke="none" stroke-width="1" />
<rect x="44.99" y="208.39" width="4.60" height="4.60" fill="#111" stroke="none" stroke-width="1" />
<rect x="68.08" y="311.96" width="4.60" height="4.60" fill="#111" stroke="none" stroke-width="1" />
<rect x="106.56" y="270.01" width="4.60" height="4.60" fill="#111" stroke="none" stroke-width="1" />
<rect x="129.65" y="213.84" width="4.60" height="4.60" fill="#111" stroke="none" stroke-width="1" />
<rect x="191.21" y="283.76" width="4.60" height="4.60" fill="#111" stroke="none" stroke-width="1" />
<text x="124.10" y="362.20" font-size="10.4" font-weight="bold" font-style="italic" fill="#222" text-anchor="middle" >Zeitgeber Time / ZT,h</text>
<text transform="translate(19.6,265.2) rotate(-90)" font-size="10.1" font-weight="bold" fill="#222" text-anchor="middle">[D-serine] / <tspan font-style="italic">µ</tspan>M</text>
<line x1="281.00" y1="193.00" x2="281.00" y2="334.30" stroke="#3a3a3a" stroke-width="1.3" />
<line x1="463.90" y1="193.00" x2="463.90" y2="334.30" stroke="#3a3a3a" stroke-width="1.3" />
<line x1="280.40" y1="333.70" x2="464.50" y2="333.70" stroke="#3a3a3a" stroke-width="1.3" />
<rect x="281.00" y="192.70" width="183.40" height="4.80" fill="#050505" stroke="none" stroke-width="1" />
<rect x="342.57" y="194.20" width="59.77" height="2.20" fill="#fff" stroke="none" stroke-width="1" />
<line x1="281.00" y1="333.70" x2="282.80" y2="333.70" stroke="#333" stroke-width="0.8" />
<line x1="463.90" y1="333.70" x2="462.10" y2="333.70" stroke="#333" stroke-width="0.8" />
<text transform="translate(278.40,337.30) scale(1,1.1)" x="0" y="0" font-size="9.3" font-weight="normal" font-style="normal" fill="#333" text-anchor="end" stroke="#333" stroke-width="0.2">0</text>
<line x1="281.00" y1="287.13" x2="282.80" y2="287.13" stroke="#333" stroke-width="0.8" />
<line x1="463.90" y1="287.13" x2="462.10" y2="287.13" stroke="#333" stroke-width="0.8" />
<text transform="translate(278.40,290.73) scale(1,1.1)" x="0" y="0" font-size="9.3" font-weight="normal" font-style="normal" fill="#333" text-anchor="end" stroke="#333" stroke-width="0.2">50</text>
<line x1="281.00" y1="240.57" x2="282.80" y2="240.57" stroke="#333" stroke-width="0.8" />
<line x1="463.90" y1="240.57" x2="462.10" y2="240.57" stroke="#333" stroke-width="0.8" />
<text transform="translate(278.40,244.17) scale(1,1.1)" x="0" y="0" font-size="9.3" font-weight="normal" font-style="normal" fill="#333" text-anchor="end" stroke="#333" stroke-width="0.2">100</text>
<line x1="281.00" y1="194.00" x2="282.80" y2="194.00" stroke="#333" stroke-width="0.8" />
<line x1="463.90" y1="194.00" x2="462.10" y2="194.00" stroke="#333" stroke-width="0.8" />
<text transform="translate(278.40,197.60) scale(1,1.1)" x="0" y="0" font-size="9.3" font-weight="normal" font-style="normal" fill="#333" text-anchor="end" stroke="#333" stroke-width="0.2">150</text>
<line x1="281.00" y1="333.70" x2="281.00" y2="331.90" stroke="#333" stroke-width="0.8" />
<text transform="translate(281.00,347.80) scale(1,1.1)" x="0" y="0" font-size="9.3" font-weight="normal" font-style="normal" fill="#333" text-anchor="middle" stroke="#333" stroke-width="0.2">0</text>
<line x1="341.97" y1="333.70" x2="341.97" y2="331.90" stroke="#333" stroke-width="0.8" />
<text transform="translate(341.97,347.80) scale(1,1.1)" x="0" y="0" font-size="9.3" font-weight="normal" font-style="normal" fill="#333" text-anchor="middle" stroke="#333" stroke-width="0.2">10</text>
<line x1="402.93" y1="333.70" x2="402.93" y2="331.90" stroke="#333" stroke-width="0.8" />
<text transform="translate(402.93,347.80) scale(1,1.1)" x="0" y="0" font-size="9.3" font-weight="normal" font-style="normal" fill="#333" text-anchor="middle" stroke="#333" stroke-width="0.2">20</text>
<line x1="463.90" y1="333.70" x2="463.90" y2="331.90" stroke="#333" stroke-width="0.8" />
<text transform="translate(463.90,347.80) scale(1,1.1)" x="0" y="0" font-size="9.3" font-weight="normal" font-style="normal" fill="#333" text-anchor="middle" stroke="#333" stroke-width="0.2">30</text>
<text x="312.40" y="207.40" font-size="6.6" font-weight="bold" font-style="normal" fill="#111" text-anchor="middle" >DARK</text>
<text x="372.60" y="208.20" font-size="6.6" font-weight="bold" font-style="normal" fill="#111" text-anchor="middle" >LIGHT</text>
<text x="433.40" y="208.20" font-size="6.6" font-weight="bold" font-style="normal" fill="#111" text-anchor="middle" >DARK</text>
<text x="372.80" y="360.60" font-size="10.6" font-weight="bold" font-style="italic" fill="#222" text-anchor="middle" >Time / min</text>
<text transform="translate(256.9,264.6) rotate(-90)" font-size="10.9" font-weight="bold" fill="#222" text-anchor="middle">Mean Velocity / cm min<tspan font-size="7.5" dy="-4.3">-1</tspan></text>
<polyline points="281.00,262.00 284.00,298.80 290.00,307.50 296.00,305.00 300.00,309.00 305.00,310.80 308.00,306.00 312.00,309.70 318.00,308.60 322.00,304.00 325.00,305.30 329.00,308.00 333.00,304.20 337.00,306.00 340.00,307.50 342.50,309.00 345.00,200.50 347.00,287.00 351.00,278.40 355.00,275.20 360.00,275.80 365.00,279.50 370.00,284.00 375.00,282.80 378.00,280.60 381.00,290.50 385.00,288.00 390.00,289.00 397.00,287.20 403.00,282.80 406.00,269.70 409.00,257.70 412.50,311.30 416.00,307.00 420.00,309.00 424.00,306.00 428.00,311.70 432.00,308.00 435.00,309.00 440.00,314.50 445.00,308.60 449.00,311.00 452.00,309.50 457.00,307.30 462.00,303.60" fill="none" stroke="#9a9a9a" stroke-width="0.8" stroke-linejoin="round" stroke-dasharray="1.2,0.6"/>
<polyline points="281.00,300.00 284.00,325.00 290.00,324.60 295.00,322.00 300.00,324.00 305.00,326.00 310.00,327.20 315.00,324.00 320.00,325.00 325.00,323.00 330.00,321.70 335.00,320.00 340.00,318.40 342.50,318.00 345.00,245.00 347.00,306.90 351.00,309.00 356.00,302.50 362.00,304.70 366.00,300.30 369.00,313.40 372.00,303.60 376.00,312.30 380.00,310.00 385.00,311.30 390.00,313.00 395.00,312.30 400.00,313.50 405.00,312.30 409.00,305.00 412.00,315.60 418.00,321.10 425.00,323.30 430.00,322.00 435.00,323.30 440.00,324.00 445.00,325.50 450.00,325.00 455.00,326.60 463.00,327.00" fill="none" stroke="#9a9a9a" stroke-width="0.8" stroke-linejoin="round" stroke-dasharray="1.2,0.6"/>
<polyline points="281.00,293.90 284.00,311.90 287.00,312.00 290.00,318.40 293.00,318.00 296.00,319.50 299.00,313.60 302.00,315.80 305.00,315.00 308.00,320.60 311.00,319.00 314.00,319.00 317.00,320.60 320.00,319.50 323.00,317.30 327.00,312.30 330.00,318.00 333.00,313.00 336.00,313.50 339.00,314.50 342.20,314.50 345.00,224.50 347.80,288.30 351.10,299.20 354.00,290.50 357.00,289.00 360.00,291.00 363.00,293.80 366.00,289.80 369.00,299.20 372.00,291.60 375.00,297.00 378.00,296.40 381.00,302.50 384.00,299.90 387.00,301.40 390.00,298.60 393.00,300.30 396.00,303.60 399.00,307.30 402.40,302.50 405.70,291.60 408.90,283.90 411.80,313.90 415.00,315.60 418.00,315.20 421.00,318.90 424.00,320.00 427.00,319.00 430.00,318.00 433.00,321.10 436.00,319.00 439.00,319.50 442.00,321.80 445.00,317.50 448.00,317.50 451.00,317.50 454.00,318.00 457.00,320.40 460.00,316.00 463.00,316.00" fill="none" stroke="#111" stroke-width="1.3" stroke-linejoin="round" />
<rect x="279.70" y="292.60" width="2.60" height="2.60" fill="#111" stroke="none" stroke-width="1" />
<rect x="282.70" y="310.60" width="2.60" height="2.60" fill="#111" stroke="none" stroke-width="1" />
<rect x="285.70" y="310.70" width="2.60" height="2.60" fill="#111" stroke="none" stroke-width="1" />
<rect x="288.70" y="317.10" width="2.60" height="2.60" fill="#111" stroke="none" stroke-width="1" />
<rect x="291.70" y="316.70" width="2.60" height="2.60" fill="#111" stroke="none" stroke-width="1" />
<rect x="294.70" y="318.20" width="2.60" height="2.60" fill="#111" stroke="none" stroke-width="1" />
<rect x="297.70" y="312.30" width="2.60" height="2.60" fill="#111" stroke="none" stroke-width="1" />
<rect x="300.70" y="314.50" width="2.60" height="2.60" fill="#111" stroke="none" stroke-width="1" />
<rect x="303.70" y="313.70" width="2.60" height="2.60" fill="#111" stroke="none" stroke-width="1" />
<rect x="306.70" y="319.30" width="2.60" height="2.60" fill="#111" stroke="none" stroke-width="1" />
<rect x="309.70" y="317.70" width="2.60" height="2.60" fill="#111" stroke="none" stroke-width="1" />
<rect x="312.70" y="317.70" width="2.60" height="2.60" fill="#111" stroke="none" stroke-width="1" />
<rect x="315.70" y="319.30" width="2.60" height="2.60" fill="#111" stroke="none" stroke-width="1" />
<rect x="318.70" y="318.20" width="2.60" height="2.60" fill="#111" stroke="none" stroke-width="1" />
<rect x="321.70" y="316.00" width="2.60" height="2.60" fill="#111" stroke="none" stroke-width="1" />
<rect x="325.70" y="311.00" width="2.60" height="2.60" fill="#111" stroke="none" stroke-width="1" />
<rect x="328.70" y="316.70" width="2.60" height="2.60" fill="#111" stroke="none" stroke-width="1" />
<rect x="331.70" y="311.70" width="2.60" height="2.60" fill="#111" stroke="none" stroke-width="1" />
<rect x="334.70" y="312.20" width="2.60" height="2.60" fill="#111" stroke="none" stroke-width="1" />
<rect x="337.70" y="313.20" width="2.60" height="2.60" fill="#111" stroke="none" stroke-width="1" />
<rect x="340.90" y="313.20" width="2.60" height="2.60" fill="#111" stroke="none" stroke-width="1" />
<rect x="343.70" y="223.20" width="2.60" height="2.60" fill="#111" stroke="none" stroke-width="1" />
<rect x="346.50" y="287.00" width="2.60" height="2.60" fill="#111" stroke="none" stroke-width="1" />
<rect x="349.80" y="297.90" width="2.60" height="2.60" fill="#111" stroke="none" stroke-width="1" />
<rect x="352.70" y="289.20" width="2.60" height="2.60" fill="#111" stroke="none" stroke-width="1" />
<rect x="355.70" y="287.70" width="2.60" height="2.60" fill="#111" stroke="none" stroke-width="1" />
<rect x="358.70" y="289.70" width="2.60" height="2.60" fill="#111" stroke="none" stroke-width="1" />
<rect x="361.70" y="292.50" width="2.60" height="2.60" fill="#111" stroke="none" stroke-width="1" />
<rect x="364.70" y="288.50" width="2.60" height="2.60" fill="#111" stroke="none" stroke-width="1" />
<rect x="367.70" y="297.90" width="2.60" height="2.60" fill="#111" stroke="none" stroke-width="1" />
<rect x="370.70" y="290.30" width="2.60" height="2.60" fill="#111" stroke="none" stroke-width="1" />
<rect x="373.70" y="295.70" width="2.60" height="2.60" fill="#111" stroke="none" stroke-width="1" />
<rect x="376.70" y="295.10" width="2.60" height="2.60" fill="#111" stroke="none" stroke-width="1" />
<rect x="379.70" y="301.20" width="2.60" height="2.60" fill="#111" stroke="none" stroke-width="1" />
<rect x="382.70" y="298.60" width="2.60" height="2.60" fill="#111" stroke="none" stroke-width="1" />
<rect x="385.70" y="300.10" width="2.60" height="2.60" fill="#111" stroke="none" stroke-width="1" />
<rect x="388.70" y="297.30" width="2.60" height="2.60" fill="#111" stroke="none" stroke-width="1" />
<rect x="391.70" y="299.00" width="2.60" height="2.60" fill="#111" stroke="none" stroke-width="1" />
<rect x="394.70" y="302.30" width="2.60" height="2.60" fill="#111" stroke="none" stroke-width="1" />
<rect x="397.70" y="306.00" width="2.60" height="2.60" fill="#111" stroke="none" stroke-width="1" />
<rect x="401.10" y="301.20" width="2.60" height="2.60" fill="#111" stroke="none" stroke-width="1" />
<rect x="404.40" y="290.30" width="2.60" height="2.60" fill="#111" stroke="none" stroke-width="1" />
<rect x="407.60" y="282.60" width="2.60" height="2.60" fill="#111" stroke="none" stroke-width="1" />
<rect x="410.50" y="312.60" width="2.60" height="2.60" fill="#111" stroke="none" stroke-width="1" />
<rect x="413.70" y="314.30" width="2.60" height="2.60" fill="#111" stroke="none" stroke-width="1" />
<rect x="416.70" y="313.90" width="2.60" height="2.60" fill="#111" stroke="none" stroke-width="1" />
<rect x="419.70" y="317.60" width="2.60" height="2.60" fill="#111" stroke="none" stroke-width="1" />
<rect x="422.70" y="318.70" width="2.60" height="2.60" fill="#111" stroke="none" stroke-width="1" />
<rect x="425.70" y="317.70" width="2.60" height="2.60" fill="#111" stroke="none" stroke-width="1" />
<rect x="428.70" y="316.70" width="2.60" height="2.60" fill="#111" stroke="none" stroke-width="1" />
<rect x="431.70" y="319.80" width="2.60" height="2.60" fill="#111" stroke="none" stroke-width="1" />
<rect x="434.70" y="317.70" width="2.60" height="2.60" fill="#111" stroke="none" stroke-width="1" />
<rect x="437.70" y="318.20" width="2.60" height="2.60" fill="#111" stroke="none" stroke-width="1" />
<rect x="440.70" y="320.50" width="2.60" height="2.60" fill="#111" stroke="none" stroke-width="1" />
<rect x="443.70" y="316.20" width="2.60" height="2.60" fill="#111" stroke="none" stroke-width="1" />
<rect x="446.70" y="316.20" width="2.60" height="2.60" fill="#111" stroke="none" stroke-width="1" />
<rect x="449.70" y="316.20" width="2.60" height="2.60" fill="#111" stroke="none" stroke-width="1" />
<rect x="452.70" y="316.70" width="2.60" height="2.60" fill="#111" stroke="none" stroke-width="1" />
<rect x="455.70" y="319.10" width="2.60" height="2.60" fill="#111" stroke="none" stroke-width="1" />
<rect x="458.70" y="314.70" width="2.60" height="2.60" fill="#111" stroke="none" stroke-width="1" />
<rect x="461.70" y="314.70" width="2.60" height="2.60" fill="#111" stroke="none" stroke-width="1" />
<line x1="504.20" y1="197.30" x2="504.20" y2="343.40" stroke="#555" stroke-width="1.1" />
<line x1="503.70" y1="343.00" x2="580.00" y2="343.00" stroke="#555" stroke-width="1.1" />
<line x1="504.20" y1="343.00" x2="506.00" y2="343.00" stroke="#555" stroke-width="0.8" />
<text x="500.20" y="346.20" font-size="8.7" font-weight="normal" font-style="normal" fill="#555" text-anchor="end" >0</text>
<line x1="504.20" y1="314.10" x2="506.00" y2="314.10" stroke="#555" stroke-width="0.8" />
<text x="500.20" y="317.30" font-size="8.7" font-weight="normal" font-style="normal" fill="#555" text-anchor="end" >2</text>
<line x1="504.20" y1="285.20" x2="506.00" y2="285.20" stroke="#555" stroke-width="0.8" />
<text x="500.20" y="288.40" font-size="8.7" font-weight="normal" font-style="normal" fill="#555" text-anchor="end" >4</text>
<line x1="504.20" y1="256.30" x2="506.00" y2="256.30" stroke="#555" stroke-width="0.8" />
<text x="500.20" y="259.50" font-size="8.7" font-weight="normal" font-style="normal" fill="#555" text-anchor="end" >6</text>
<line x1="504.20" y1="227.40" x2="506.00" y2="227.40" stroke="#555" stroke-width="0.8" />
<text x="500.20" y="230.60" font-size="8.7" font-weight="normal" font-style="normal" fill="#555" text-anchor="end" >8</text>
<line x1="504.20" y1="198.50" x2="506.00" y2="198.50" stroke="#555" stroke-width="0.8" />
<text x="500.20" y="201.70" font-size="8.7" font-weight="normal" font-style="normal" fill="#555" text-anchor="end" >10</text>
<line x1="530.30" y1="343.00" x2="530.30" y2="341.20" stroke="#555" stroke-width="0.8" />
<text x="530.30" y="356.40" font-size="9.1" font-weight="normal" font-style="normal" fill="#444" text-anchor="middle" >D</text>
<line x1="556.20" y1="343.00" x2="556.20" y2="341.20" stroke="#555" stroke-width="0.8" />
<text x="556.20" y="356.40" font-size="9.1" font-weight="normal" font-style="normal" fill="#444" text-anchor="middle" >2 h L</text>
<text x="508.30" y="208.30" font-size="10.5" font-weight="bold" font-style="normal" fill="#111" text-anchor="start" >ZT2</text>
<text transform="translate(486.9,265.2) rotate(-90)" font-size="10.1" font-weight="bold" fill="#333" text-anchor="middle">[D-serine] / <tspan font-style="italic">µ</tspan>M</text>
<polygon points="530.30,246.32 533.05,249.07 530.30,251.82 527.55,249.07" fill="#0c0c0c" stroke="#0c0c0c" stroke-width="1.0" stroke-linejoin="round"/>
<polygon points="530.30,255.00 533.05,257.75 530.30,260.50 527.55,257.75" fill="#0c0c0c" stroke="#0c0c0c" stroke-width="1.0" stroke-linejoin="round"/>
<polygon points="530.30,257.88 533.05,260.63 530.30,263.38 527.55,260.63" fill="#0c0c0c" stroke="#0c0c0c" stroke-width="1.0" stroke-linejoin="round"/>
<polygon points="530.30,260.77 533.05,263.52 530.30,266.27 527.55,263.52" fill="#0c0c0c" stroke="#0c0c0c" stroke-width="1.0" stroke-linejoin="round"/>
<polygon points="530.30,304.12 533.05,306.88 530.30,309.62 527.55,306.88" fill="#0c0c0c" stroke="#0c0c0c" stroke-width="1.0" stroke-linejoin="round"/>
<polygon points="556.20,226.09 558.95,228.84 556.20,231.59 553.45,228.84" fill="#808080" stroke="#808080" stroke-width="1.0" stroke-linejoin="round"/>
<polygon points="556.20,241.99 558.95,244.74 556.20,247.49 553.45,244.74" fill="#808080" stroke="#808080" stroke-width="1.0" stroke-linejoin="round"/>
<line x1="622.60" y1="198.70" x2="622.60" y2="344.70" stroke="#555" stroke-width="1.1" />
<line x1="622.10" y1="344.30" x2="698.60" y2="344.30" stroke="#555" stroke-width="1.1" />
<line x1="622.60" y1="344.30" x2="624.40" y2="344.30" stroke="#555" stroke-width="0.8" />
<text x="618.60" y="347.50" font-size="8.7" font-weight="normal" font-style="normal" fill="#555" text-anchor="end" >0</text>
<line x1="622.60" y1="320.20" x2="624.40" y2="320.20" stroke="#555" stroke-width="0.8" />
<text x="618.60" y="323.40" font-size="8.7" font-weight="normal" font-style="normal" fill="#555" text-anchor="end" >2</text>
<line x1="622.60" y1="296.10" x2="624.40" y2="296.10" stroke="#555" stroke-width="0.8" />
<text x="618.60" y="299.30" font-size="8.7" font-weight="normal" font-style="normal" fill="#555" text-anchor="end" >4</text>
<line x1="622.60" y1="272.00" x2="624.40" y2="272.00" stroke="#555" stroke-width="0.8" />
<text x="618.60" y="275.20" font-size="8.7" font-weight="normal" font-style="normal" fill="#555" text-anchor="end" >6</text>
<line x1="622.60" y1="247.90" x2="624.40" y2="247.90" stroke="#555" stroke-width="0.8" />
<text x="618.60" y="251.10" font-size="8.7" font-weight="normal" font-style="normal" fill="#555" text-anchor="end" >8</text>
<line x1="622.60" y1="223.80" x2="624.40" y2="223.80" stroke="#555" stroke-width="0.8" />
<text x="618.60" y="227.00" font-size="8.7" font-weight="normal" font-style="normal" fill="#555" text-anchor="end" >10</text>
<line x1="622.60" y1="199.70" x2="624.40" y2="199.70" stroke="#555" stroke-width="0.8" />
<text x="618.60" y="202.90" font-size="8.7" font-weight="normal" font-style="normal" fill="#555" text-anchor="end" >12</text>
<line x1="649.30" y1="344.30" x2="649.30" y2="342.50" stroke="#555" stroke-width="0.8" />
<text x="649.30" y="357.30" font-size="8.8" font-weight="normal" font-style="normal" fill="#444" text-anchor="middle" >L</text>
<line x1="678.20" y1="344.30" x2="678.20" y2="342.50" stroke="#555" stroke-width="0.8" />
<text x="678.20" y="357.30" font-size="8.8" font-weight="normal" font-style="normal" fill="#444" text-anchor="middle" >+ATP</text>
<text x="626.40" y="208.60" font-size="10.7" font-weight="bold" font-style="normal" fill="#111" text-anchor="start" >ZT5</text>
<text transform="translate(604.4,269.3) rotate(-90)" font-size="9.1" font-weight="bold" fill="#333" text-anchor="middle">[D-serine] / <tspan font-style="italic">µ</tspan>M</text>
<circle cx="649.5" cy="329.84" r="3.1" fill="#0c0c0c"/>
<circle cx="649.5" cy="332.25" r="3.1" fill="#0c0c0c"/>
<circle cx="649.5" cy="334.66" r="3.1" fill="#0c0c0c"/>
<circle cx="649.5" cy="336.47" r="3.1" fill="#0c0c0c"/>
<circle cx="677.9" cy="209.70" r="2.9" fill="#7a7a7a"/>
<circle cx="677.9" cy="269.59" r="2.9" fill="#7a7a7a"/>
</svg>
</body></html>
